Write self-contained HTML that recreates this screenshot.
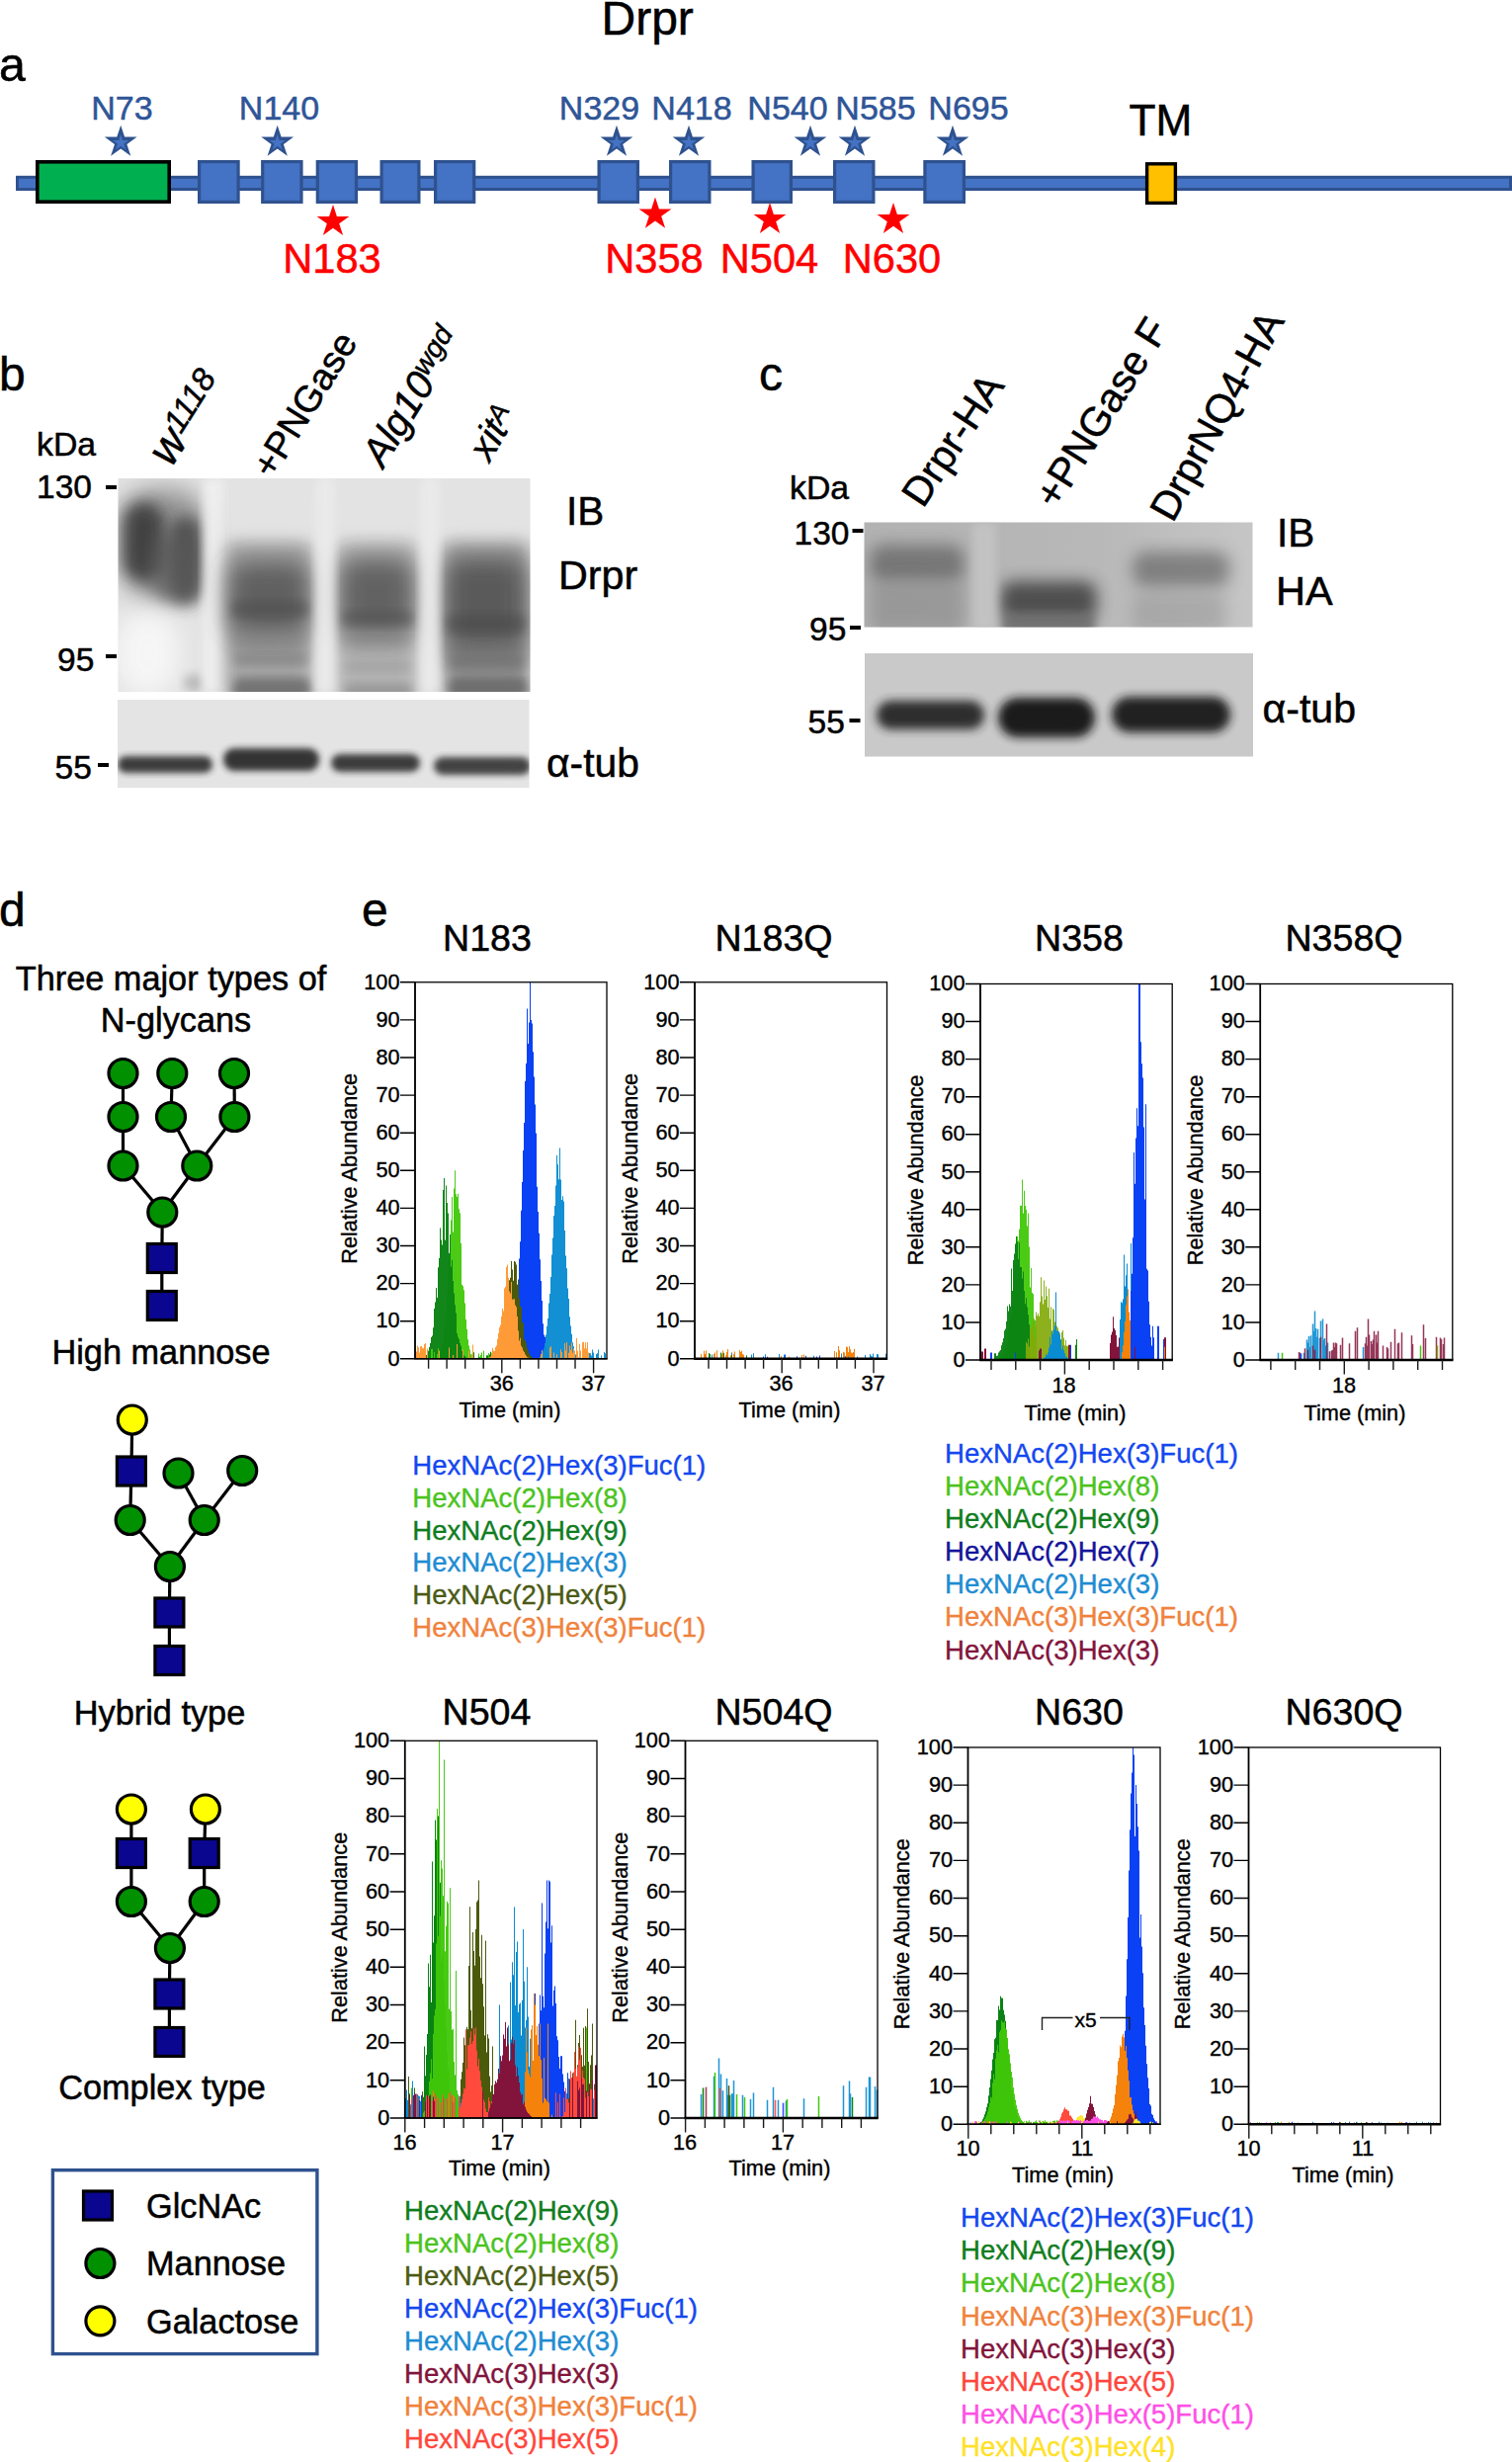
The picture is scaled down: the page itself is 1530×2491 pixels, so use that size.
<!DOCTYPE html>
<html lang="en"><head><meta charset="utf-8"><title>Drpr N-glycosylation</title>
<style>
html,body{margin:0;padding:0;background:#fff;}
svg{display:block;font-family:"Liberation Sans", sans-serif;}
</style></head><body>
<svg width="1530" height="2491" viewBox="0 0 1530 2491">
<rect width="1530" height="2491" fill="#fff"/>
<g id="panel-a">
<text x="608.5" y="35" font-size="48" fill="#000" stroke="#000" stroke-width="0.5" text-anchor="start" >Drpr</text>
<text x="-1" y="81.5" font-size="48.3" fill="#000" stroke="#000" stroke-width="0.5" text-anchor="start" >a</text>
<rect x="17.5" y="179.3" width="1511" height="12.2" fill="#4472C4" stroke="#2F528F" stroke-width="3"/>
<rect x="37.8" y="163.8" width="133.4" height="40.4" fill="#00B050" stroke="#000" stroke-width="3.6"/>
<rect x="201.6" y="163.6" width="39.5" height="40.8" fill="#4472C4" stroke="#2F528F" stroke-width="3.2"/>
<rect x="265.7" y="163.6" width="39.3" height="40.8" fill="#4472C4" stroke="#2F528F" stroke-width="3.2"/>
<rect x="321.3" y="163.6" width="39.2" height="40.8" fill="#4472C4" stroke="#2F528F" stroke-width="3.2"/>
<rect x="386.1" y="163.6" width="37.8" height="40.8" fill="#4472C4" stroke="#2F528F" stroke-width="3.2"/>
<rect x="440.6" y="163.6" width="39.1" height="40.8" fill="#4472C4" stroke="#2F528F" stroke-width="3.2"/>
<rect x="606.1" y="163.6" width="39.3" height="40.8" fill="#4472C4" stroke="#2F528F" stroke-width="3.2"/>
<rect x="678.6" y="163.6" width="39.3" height="40.8" fill="#4472C4" stroke="#2F528F" stroke-width="3.2"/>
<rect x="762.1" y="163.6" width="38.3" height="40.8" fill="#4472C4" stroke="#2F528F" stroke-width="3.2"/>
<rect x="844.6" y="163.6" width="39.3" height="40.8" fill="#4472C4" stroke="#2F528F" stroke-width="3.2"/>
<rect x="935.9" y="163.6" width="39.5" height="40.8" fill="#4472C4" stroke="#2F528F" stroke-width="3.2"/>
<rect x="1160.6" y="165.8" width="28.8" height="39.6" fill="#FFC000" stroke="#000" stroke-width="3.4"/>
<text x="1174.5" y="136.5" font-size="44.2" fill="#000" stroke="#000" stroke-width="0.5" text-anchor="middle" >TM</text>
<polygon points="122.2,126.7 126.1,138.6 138.6,138.6 128.4,145.9 132.3,157.8 122.2,150.5 112.1,157.8 116.0,145.9 105.8,138.6 118.3,138.6" fill="#2F528F"/>
<polygon points="122.2,136.0 124.1,141.9 130.3,141.9 125.3,145.5 127.2,151.4 122.2,147.7 117.2,151.4 119.1,145.5 114.1,141.9 120.3,141.9" fill="#4472C4"/>
<text x="123.5" y="121.3" font-size="34" fill="#2F5597" stroke="#2F5597" stroke-width="0.5" text-anchor="middle" >N73</text>
<polygon points="280.7,126.7 284.6,138.6 297.1,138.6 286.9,145.9 290.8,157.8 280.7,150.5 270.6,157.8 274.5,145.9 264.3,138.6 276.8,138.6" fill="#2F528F"/>
<polygon points="280.7,136.0 282.6,141.9 288.8,141.9 283.8,145.5 285.7,151.4 280.7,147.7 275.7,151.4 277.6,145.5 272.6,141.9 278.8,141.9" fill="#4472C4"/>
<text x="282.5" y="121.3" font-size="34" fill="#2F5597" stroke="#2F5597" stroke-width="0.5" text-anchor="middle" >N140</text>
<polygon points="624.0,126.7 627.9,138.6 640.4,138.6 630.2,145.9 634.1,157.8 624.0,150.5 613.9,157.8 617.8,145.9 607.6,138.6 620.1,138.6" fill="#2F528F"/>
<polygon points="624.0,136.0 625.9,141.9 632.1,141.9 627.1,145.5 629.0,151.4 624.0,147.7 619.0,151.4 620.9,145.5 615.9,141.9 622.1,141.9" fill="#4472C4"/>
<text x="606.5" y="121.3" font-size="34" fill="#2F5597" stroke="#2F5597" stroke-width="0.5" text-anchor="middle" >N329</text>
<polygon points="697.0,126.7 700.9,138.6 713.4,138.6 703.2,145.9 707.1,157.8 697.0,150.5 686.9,157.8 690.8,145.9 680.6,138.6 693.1,138.6" fill="#2F528F"/>
<polygon points="697.0,136.0 698.9,141.9 705.1,141.9 700.1,145.5 702.0,151.4 697.0,147.7 692.0,151.4 693.9,145.5 688.9,141.9 695.1,141.9" fill="#4472C4"/>
<text x="700" y="121.3" font-size="34" fill="#2F5597" stroke="#2F5597" stroke-width="0.5" text-anchor="middle" >N418</text>
<polygon points="820.0,126.7 823.9,138.6 836.4,138.6 826.2,145.9 830.1,157.8 820.0,150.5 809.9,157.8 813.8,145.9 803.6,138.6 816.1,138.6" fill="#2F528F"/>
<polygon points="820.0,136.0 821.9,141.9 828.1,141.9 823.1,145.5 825.0,151.4 820.0,147.7 815.0,151.4 816.9,145.5 811.9,141.9 818.1,141.9" fill="#4472C4"/>
<text x="797" y="121.3" font-size="34" fill="#2F5597" stroke="#2F5597" stroke-width="0.5" text-anchor="middle" >N540</text>
<polygon points="865.0,126.7 868.9,138.6 881.4,138.6 871.2,145.9 875.1,157.8 865.0,150.5 854.9,157.8 858.8,145.9 848.6,138.6 861.1,138.6" fill="#2F528F"/>
<polygon points="865.0,136.0 866.9,141.9 873.1,141.9 868.1,145.5 870.0,151.4 865.0,147.7 860.0,151.4 861.9,145.5 856.9,141.9 863.1,141.9" fill="#4472C4"/>
<text x="886" y="121.3" font-size="34" fill="#2F5597" stroke="#2F5597" stroke-width="0.5" text-anchor="middle" >N585</text>
<polygon points="964.0,126.7 967.9,138.6 980.4,138.6 970.2,145.9 974.1,157.8 964.0,150.5 953.9,157.8 957.8,145.9 947.6,138.6 960.1,138.6" fill="#2F528F"/>
<polygon points="964.0,136.0 965.9,141.9 972.1,141.9 967.1,145.5 969.0,151.4 964.0,147.7 959.0,151.4 960.9,145.5 955.9,141.9 962.1,141.9" fill="#4472C4"/>
<text x="980" y="121.3" font-size="34" fill="#2F5597" stroke="#2F5597" stroke-width="0.5" text-anchor="middle" >N695</text>
<polygon points="337.0,207.0 340.9,218.9 353.4,218.9 343.2,226.2 347.1,238.1 337.0,230.8 326.9,238.1 330.8,226.2 320.6,218.9 333.1,218.9" fill="#FF0000"/>
<text x="336" y="276" font-size="41.6" fill="#FF0000" stroke="#FF0000" stroke-width="0.5" text-anchor="middle" >N183</text>
<polygon points="663.0,199.6 666.9,211.5 679.4,211.5 669.2,218.8 673.1,230.7 663.0,223.4 652.9,230.7 656.8,218.8 646.6,211.5 659.1,211.5" fill="#FF0000"/>
<text x="662" y="276" font-size="41.6" fill="#FF0000" stroke="#FF0000" stroke-width="0.5" text-anchor="middle" >N358</text>
<polygon points="779.0,205.0 782.9,216.9 795.4,216.9 785.2,224.2 789.1,236.1 779.0,228.8 768.9,236.1 772.8,224.2 762.6,216.9 775.1,216.9" fill="#FF0000"/>
<text x="778.5" y="276" font-size="41.6" fill="#FF0000" stroke="#FF0000" stroke-width="0.5" text-anchor="middle" >N504</text>
<polygon points="904.0,205.0 907.9,216.9 920.4,216.9 910.2,224.2 914.1,236.1 904.0,228.8 893.9,236.1 897.8,224.2 887.6,216.9 900.1,216.9" fill="#FF0000"/>
<text x="902.5" y="276" font-size="41.6" fill="#FF0000" stroke="#FF0000" stroke-width="0.5" text-anchor="middle" >N630</text>
</g>
<defs>
<filter id="bl3" x="-30%" y="-30%" width="160%" height="160%"><feGaussianBlur stdDeviation="3"/></filter>
<filter id="bl5" x="-30%" y="-30%" width="160%" height="160%"><feGaussianBlur stdDeviation="5"/></filter>
<filter id="bl8" x="-40%" y="-40%" width="180%" height="180%"><feGaussianBlur stdDeviation="8"/></filter>
<filter id="bl12" x="-50%" y="-50%" width="200%" height="200%"><feGaussianBlur stdDeviation="12"/></filter>
<clipPath id="cb1"><rect x="119.5" y="484" width="417" height="216"/></clipPath>
<clipPath id="cb2"><rect x="119" y="708" width="416.5" height="89"/></clipPath>
<clipPath id="cc1"><rect x="874.5" y="528.5" width="393" height="106"/></clipPath>
<clipPath id="cc2"><rect x="875" y="661" width="393" height="104.5"/></clipPath>
<linearGradient id="gc1" x1="0" x2="1" y1="0" y2="0"><stop offset="0" stop-color="#b2b2b2"/><stop offset="0.6" stop-color="#b8b8b8"/><stop offset="1" stop-color="#c6c6c6"/></linearGradient>
</defs>
<g id="panel-b">
<text x="-1" y="395.2" font-size="48" fill="#000" stroke="#000" stroke-width="0.5" text-anchor="start" >b</text>
<text x="37" y="460.5" font-size="33.8" fill="#000" stroke="#000" stroke-width="0.5" text-anchor="start" >kDa</text>
<text x="37" y="504" font-size="33.5" fill="#000" stroke="#000" stroke-width="0.5" text-anchor="start" >130</text>
<text x="58" y="678.5" font-size="33.5" fill="#000" stroke="#000" stroke-width="0.5" text-anchor="start" >95</text>
<text x="55.5" y="788.4" font-size="33.5" fill="#000" stroke="#000" stroke-width="0.5" text-anchor="start" >55</text>
<rect x="107" y="491" width="11" height="4" fill="#000"/>
<rect x="107" y="662" width="11" height="4" fill="#000"/>
<rect x="99" y="772" width="11" height="4" fill="#000"/>
<text transform="translate(173.5,473.5) rotate(-57.5)" stroke="#000" stroke-width="0.5" font-size="46" font-style="italic">w<tspan font-size="33" dy="-10">1118</tspan></text>
<text transform="translate(275.5,485.7) rotate(-58)" stroke="#000" stroke-width="0.5" font-size="37.7">+PNGase</text>
<text transform="translate(388,474.6) rotate(-58.6)" stroke="#000" stroke-width="0.5" font-size="40" font-style="italic">Alg10<tspan font-size="28.5" dy="-11">wgd</tspan></text>
<text transform="translate(495.5,468.5) rotate(-60)" stroke="#000" stroke-width="0.5" font-size="39" font-style="italic">xit<tspan font-size="27" dy="-9">A</tspan></text>
<g clip-path="url(#cb1)">
<rect x="119" y="483" width="419" height="218" fill="#e3e3e3"/>
<rect x="122" y="494" width="86" height="112" rx="34" fill="#7a7a7a" opacity="0.75" filter="url(#bl12)"/>
<rect x="124" y="508" width="42" height="80" rx="21.0" fill="#2e2e2e" opacity="0.8" filter="url(#bl8)"/>
<rect x="172" y="522" width="33" height="90" rx="16.5" fill="#3a3a3a" opacity="0.75" filter="url(#bl8)"/>
<rect x="150" y="540" width="50" height="70" rx="25.0" fill="#585858" opacity="0.6" filter="url(#bl8)"/>
<rect x="116" y="618" width="66" height="86" rx="33.0" fill="#f8f8f8" opacity="0.9" filter="url(#bl12)"/>
<rect x="186" y="682" width="20" height="18" rx="9.0" fill="#a0a0a0" opacity="0.6" filter="url(#bl5)"/>
<rect x="206" y="484" width="20" height="216" rx="4" fill="#f0f0f0" opacity="0.9" filter="url(#bl5)"/>
<rect x="228" y="548" width="88" height="164" rx="10" fill="#909090" opacity="0.75" filter="url(#bl8)"/>
<rect x="230" y="568" width="84" height="76" rx="18" fill="#3c3c3c" opacity="0.66" filter="url(#bl12)"/>
<rect x="236" y="640" width="74" height="24" rx="8" fill="#808080" opacity="0.5" filter="url(#bl8)"/>
<rect x="236" y="686" width="78" height="24" rx="8" fill="#686868" opacity="0.8" filter="url(#bl5)"/>
<rect x="234" y="608" width="78" height="16" rx="6" fill="#484848" opacity="0.45" filter="url(#bl5)"/>
<rect x="236" y="662" width="76" height="12" rx="6" fill="#7a7a7a" opacity="0.5" filter="url(#bl5)"/>
<rect x="340" y="548" width="82" height="164" rx="10" fill="#a0a0a0" opacity="0.72" filter="url(#bl8)"/>
<rect x="342" y="564" width="78" height="78" rx="18" fill="#3e3e3e" opacity="0.68" filter="url(#bl12)"/>
<rect x="346" y="634" width="70" height="22" rx="8" fill="#7a7a7a" opacity="0.5" filter="url(#bl8)"/>
<rect x="348" y="692" width="70" height="18" rx="8" fill="#8c8c8c" opacity="0.7" filter="url(#bl5)"/>
<rect x="320" y="484" width="18" height="216" rx="4" fill="#ececec" opacity="0.85" filter="url(#bl5)"/>
<rect x="346" y="618" width="72" height="16" rx="6" fill="#484848" opacity="0.45" filter="url(#bl5)"/>
<rect x="348" y="668" width="68" height="12" rx="6" fill="#9a9a9a" opacity="0.5" filter="url(#bl5)"/>
<rect x="447" y="548" width="89" height="164" rx="10" fill="#888888" opacity="0.75" filter="url(#bl8)"/>
<rect x="449" y="564" width="85" height="96" rx="18" fill="#3a3a3a" opacity="0.68" filter="url(#bl12)"/>
<rect x="452" y="650" width="80" height="26" rx="8" fill="#6c6c6c" opacity="0.55" filter="url(#bl8)"/>
<rect x="454" y="684" width="80" height="26" rx="8" fill="#646464" opacity="0.8" filter="url(#bl5)"/>
<rect x="426" y="484" width="18" height="216" rx="4" fill="#ececec" opacity="0.85" filter="url(#bl5)"/>
<rect x="452" y="622" width="80" height="18" rx="6" fill="#444444" opacity="0.45" filter="url(#bl5)"/>
<rect x="454" y="666" width="78" height="12" rx="6" fill="#6a6a6a" opacity="0.5" filter="url(#bl5)"/>
</g>
<g clip-path="url(#cb2)">
<rect x="118" y="707" width="419" height="91" fill="#e4e4e4"/>
<rect x="119" y="765" width="96" height="17" rx="8.5" fill="#2c2c2c" opacity="0.9" filter="url(#bl3)"/>
<rect x="226" y="757" width="97" height="23" rx="11.5" fill="#262626" opacity="0.92" filter="url(#bl3)"/>
<rect x="335" y="763" width="90" height="18" rx="9.0" fill="#2c2c2c" opacity="0.9" filter="url(#bl3)"/>
<rect x="439" y="766" width="98" height="18" rx="9.0" fill="#303030" opacity="0.9" filter="url(#bl3)"/>
</g>
<text x="573" y="530.5" font-size="40.5" fill="#000" stroke="#000" stroke-width="0.5" text-anchor="start" >IB</text>
<text x="565" y="596" font-size="41.3" fill="#000" stroke="#000" stroke-width="0.5" text-anchor="start" >Drpr</text>
<text x="553" y="785.5" font-size="40.8" fill="#000" stroke="#000" stroke-width="0.5" text-anchor="start" >α-tub</text>
</g>
<g id="panel-c">
<text x="768" y="394.8" font-size="48" fill="#000" stroke="#000" stroke-width="0.5" text-anchor="start" >c</text>
<text x="799" y="504.5" font-size="33.8" fill="#000" stroke="#000" stroke-width="0.5" text-anchor="start" >kDa</text>
<text x="803.5" y="550.5" font-size="33.5" fill="#000" stroke="#000" stroke-width="0.5" text-anchor="start" >130</text>
<text x="819" y="648" font-size="33.5" fill="#000" stroke="#000" stroke-width="0.5" text-anchor="start" >95</text>
<text x="817.5" y="741.5" font-size="33.5" fill="#000" stroke="#000" stroke-width="0.5" text-anchor="start" >55</text>
<rect x="862.5" y="535" width="11" height="4" fill="#000"/>
<rect x="860" y="633" width="11" height="4" fill="#000"/>
<rect x="859.5" y="727" width="11" height="4" fill="#000"/>
<text transform="translate(933.9,515.2) rotate(-56.3)" stroke="#000" stroke-width="0.5" font-size="41">Drpr-HA</text>
<text transform="translate(1069,516.5) rotate(-58)" stroke="#000" stroke-width="0.5" font-size="41.2">+PNGase F</text>
<text transform="translate(1186.7,529.7) rotate(-61)" stroke="#000" stroke-width="0.5" font-size="41">DrprNQ4-HA</text>
<g clip-path="url(#cc1)">
<rect x="874" y="528" width="394" height="107" fill="url(#gc1)"/>
<rect x="880" y="551" width="96" height="39" rx="14" fill="#666666" opacity="0.78" filter="url(#bl8)"/>
<rect x="880" y="588" width="96" height="52" rx="10" fill="#8e8e8e" opacity="0.7" filter="url(#bl8)"/>
<rect x="1012" y="588" width="98" height="40" rx="14" fill="#484848" opacity="0.95" filter="url(#bl8)"/>
<rect x="1014" y="620" width="94" height="25" rx="8" fill="#6a6a6a" opacity="0.8" filter="url(#bl5)"/>
<rect x="1146" y="558" width="98" height="36" rx="14" fill="#6c6c6c" opacity="0.75" filter="url(#bl8)"/>
<rect x="1146" y="600" width="94" height="40" rx="10" fill="#9a9a9a" opacity="0.6" filter="url(#bl8)"/>
<rect x="984" y="528" width="24" height="112" rx="4" fill="#c4c4c4" opacity="0.9" filter="url(#bl5)"/>
</g>
<g clip-path="url(#cc2)">
<rect x="874" y="660" width="395" height="106" fill="#c9c9c9"/>
<rect x="887" y="709" width="109" height="29" rx="14.5" fill="#262626" opacity="0.95" filter="url(#bl5)"/>
<rect x="1010" y="706" width="98" height="40" rx="20.0" fill="#161616" opacity="0.97" filter="url(#bl5)"/>
<rect x="1125" y="705" width="120" height="36" rx="18.0" fill="#1a1a1a" opacity="0.97" filter="url(#bl5)"/>
</g>
<text x="1292" y="553" font-size="40.5" fill="#000" stroke="#000" stroke-width="0.5" text-anchor="start" >IB</text>
<text x="1291" y="611.5" font-size="41.5" fill="#000" stroke="#000" stroke-width="0.5" text-anchor="start" >HA</text>
<text x="1277.5" y="730.5" font-size="41.1" fill="#000" stroke="#000" stroke-width="0.5" text-anchor="start" >α-tub</text>
</g>
<g id="panel-d">
<text x="-1" y="937" font-size="48" fill="#000" stroke="#000" stroke-width="0.5" text-anchor="start" >d</text>
<text x="173" y="1002" font-size="34.3" fill="#000" stroke="#000" stroke-width="0.5" text-anchor="middle" >Three major types of</text>
<text x="178" y="1044" font-size="34.3" fill="#000" stroke="#000" stroke-width="0.5" text-anchor="middle" >N-glycans</text>
<line x1="124.5" y1="1086" x2="124.5" y2="1130" stroke="#000" stroke-width="3.2"/>
<line x1="174.3" y1="1086" x2="173" y2="1130" stroke="#000" stroke-width="3.2"/>
<line x1="237" y1="1086" x2="237.4" y2="1130" stroke="#000" stroke-width="3.2"/>
<line x1="124.5" y1="1130" x2="124.5" y2="1179.5" stroke="#000" stroke-width="3.2"/>
<line x1="173" y1="1130" x2="199.3" y2="1179.5" stroke="#000" stroke-width="3.2"/>
<line x1="237.4" y1="1130" x2="199.3" y2="1179.5" stroke="#000" stroke-width="3.2"/>
<line x1="124.5" y1="1179.5" x2="164.3" y2="1226.5" stroke="#000" stroke-width="3.2"/>
<line x1="199.3" y1="1179.5" x2="164.3" y2="1226.5" stroke="#000" stroke-width="3.2"/>
<line x1="164.3" y1="1226.5" x2="163.8" y2="1273" stroke="#000" stroke-width="3.2"/>
<line x1="163.8" y1="1273" x2="163.8" y2="1321" stroke="#000" stroke-width="3.2"/>
<circle cx="124.5" cy="1086" r="14.5" fill="#009000" stroke="#000" stroke-width="3.2"/>
<circle cx="174.3" cy="1086" r="14.5" fill="#009000" stroke="#000" stroke-width="3.2"/>
<circle cx="237" cy="1086" r="14.5" fill="#009000" stroke="#000" stroke-width="3.2"/>
<circle cx="124.5" cy="1130" r="14.5" fill="#009000" stroke="#000" stroke-width="3.2"/>
<circle cx="173" cy="1130" r="14.5" fill="#009000" stroke="#000" stroke-width="3.2"/>
<circle cx="237.4" cy="1130" r="14.5" fill="#009000" stroke="#000" stroke-width="3.2"/>
<circle cx="124.5" cy="1179.5" r="14.5" fill="#009000" stroke="#000" stroke-width="3.2"/>
<circle cx="199.3" cy="1179.5" r="14.5" fill="#009000" stroke="#000" stroke-width="3.2"/>
<circle cx="164.3" cy="1226.5" r="14.5" fill="#009000" stroke="#000" stroke-width="3.2"/>
<rect x="149.3" y="1258.5" width="29" height="29" fill="#0A0690" stroke="#000" stroke-width="3.2"/>
<rect x="149.3" y="1306.5" width="29" height="29" fill="#0A0690" stroke="#000" stroke-width="3.2"/>
<text x="163" y="1379.5" font-size="34.3" fill="#000" stroke="#000" stroke-width="0.5" text-anchor="middle" >High mannose</text>
<line x1="133.8" y1="1436.5" x2="132.9" y2="1488.5" stroke="#000" stroke-width="3.2"/>
<line x1="132.9" y1="1488.5" x2="131.7" y2="1538" stroke="#000" stroke-width="3.2"/>
<line x1="180.5" y1="1490.5" x2="206.7" y2="1538" stroke="#000" stroke-width="3.2"/>
<line x1="245.2" y1="1488" x2="206.7" y2="1538" stroke="#000" stroke-width="3.2"/>
<line x1="131.7" y1="1538" x2="171.9" y2="1585" stroke="#000" stroke-width="3.2"/>
<line x1="206.7" y1="1538" x2="171.9" y2="1585" stroke="#000" stroke-width="3.2"/>
<line x1="171.9" y1="1585" x2="171.4" y2="1631.5" stroke="#000" stroke-width="3.2"/>
<line x1="171.4" y1="1631.5" x2="171.4" y2="1680" stroke="#000" stroke-width="3.2"/>
<circle cx="133.8" cy="1436.5" r="14.5" fill="#FFFF00" stroke="#000" stroke-width="3.2"/>
<rect x="118.4" y="1474.0" width="29" height="29" fill="#0A0690" stroke="#000" stroke-width="3.2"/>
<circle cx="180.5" cy="1490.5" r="14.5" fill="#009000" stroke="#000" stroke-width="3.2"/>
<circle cx="245.2" cy="1488" r="14.5" fill="#009000" stroke="#000" stroke-width="3.2"/>
<circle cx="131.7" cy="1538" r="14.5" fill="#009000" stroke="#000" stroke-width="3.2"/>
<circle cx="206.7" cy="1538" r="14.5" fill="#009000" stroke="#000" stroke-width="3.2"/>
<circle cx="171.9" cy="1585" r="14.5" fill="#009000" stroke="#000" stroke-width="3.2"/>
<rect x="156.9" y="1617.0" width="29" height="29" fill="#0A0690" stroke="#000" stroke-width="3.2"/>
<rect x="156.9" y="1665.5" width="29" height="29" fill="#0A0690" stroke="#000" stroke-width="3.2"/>
<text x="161.5" y="1744.8" font-size="34.3" fill="#000" stroke="#000" stroke-width="0.5" text-anchor="middle" >Hybrid type</text>
<line x1="132.9" y1="1830.5" x2="132.9" y2="1875" stroke="#000" stroke-width="3.2"/>
<line x1="207.9" y1="1830.5" x2="206.7" y2="1875" stroke="#000" stroke-width="3.2"/>
<line x1="132.9" y1="1875" x2="132.9" y2="1924" stroke="#000" stroke-width="3.2"/>
<line x1="206.7" y1="1875" x2="206.7" y2="1924" stroke="#000" stroke-width="3.2"/>
<line x1="132.9" y1="1924" x2="171.9" y2="1971" stroke="#000" stroke-width="3.2"/>
<line x1="206.7" y1="1924" x2="171.9" y2="1971" stroke="#000" stroke-width="3.2"/>
<line x1="171.9" y1="1971" x2="171.4" y2="2017.5" stroke="#000" stroke-width="3.2"/>
<line x1="171.4" y1="2017.5" x2="171.4" y2="2066" stroke="#000" stroke-width="3.2"/>
<circle cx="132.9" cy="1830.5" r="14.5" fill="#FFFF00" stroke="#000" stroke-width="3.2"/>
<circle cx="207.9" cy="1830.5" r="14.5" fill="#FFFF00" stroke="#000" stroke-width="3.2"/>
<rect x="118.4" y="1860.5" width="29" height="29" fill="#0A0690" stroke="#000" stroke-width="3.2"/>
<rect x="192.2" y="1860.5" width="29" height="29" fill="#0A0690" stroke="#000" stroke-width="3.2"/>
<circle cx="132.9" cy="1924" r="14.5" fill="#009000" stroke="#000" stroke-width="3.2"/>
<circle cx="206.7" cy="1924" r="14.5" fill="#009000" stroke="#000" stroke-width="3.2"/>
<circle cx="171.9" cy="1971" r="14.5" fill="#009000" stroke="#000" stroke-width="3.2"/>
<rect x="156.9" y="2003.0" width="29" height="29" fill="#0A0690" stroke="#000" stroke-width="3.2"/>
<rect x="156.9" y="2051.5" width="29" height="29" fill="#0A0690" stroke="#000" stroke-width="3.2"/>
<text x="164" y="2124.3" font-size="34.3" fill="#000" stroke="#000" stroke-width="0.5" text-anchor="middle" >Complex type</text>
<rect x="53.4" y="2195.7" width="267.5" height="185.9" fill="#fff" stroke="#2F528F" stroke-width="3.4"/>
<rect x="84.5" y="2217.0" width="29" height="29" fill="#0A0690" stroke="#000" stroke-width="3.2"/>
<circle cx="101.4" cy="2290" r="14.5" fill="#009000" stroke="#000" stroke-width="3.2"/>
<circle cx="101.4" cy="2348.3" r="14.5" fill="#FFFF00" stroke="#000" stroke-width="3.2"/>
<text x="148" y="2244" font-size="34.3" fill="#000" stroke="#000" stroke-width="0.5" text-anchor="start" >GlcNAc</text>
<text x="148" y="2302.4" font-size="34.3" fill="#000" stroke="#000" stroke-width="0.5" text-anchor="start" >Mannose</text>
<text x="148" y="2360.7" font-size="34.3" fill="#000" stroke="#000" stroke-width="0.5" text-anchor="start" >Galactose</text>
</g>
<g id="panel-e">
<text x="366" y="937.2" font-size="48" fill="#000" stroke="#000" stroke-width="0.5" text-anchor="start" >e</text>
<g>
<text x="493" y="961.5" font-size="37.6" fill="#000" stroke="#000" stroke-width="0.5" text-anchor="middle" >N183</text>
<path d="M442,1374.8v-1.5h1v-0.6h1v-1h1v-3.2h1v-2h1v-3.3h1v-6.5h1v-12.1h1v-3.9h1v-10.8h1v-22.2h1v-14.6h1v-20h1v-19.2h1v-19.5h1v-23.3h1v35.5h1v-44.1h1v-18.2h1v24h1v2.8h1v-3.3h1v15.4h1v4.1h1v30.7h1v41.7h1v1.5h1v4.1h1v13.2h1v16.6h1v9.9h1v10.2h1v6.3h1v4h1v4.7h1v0.4h1v2h1v0.9h1v1.3z" fill="#41C80A" fill-opacity="0.95"/>
<path d="M428,1374.8v-0.7h1v-1h1v-0.3h1v-1.7h1v-1.8h1v-2.5h1v-3.7h1v-4h1v-6.1h1v-1.4h1v-8.4h1v-19.1h1v-6.7h1v-14.5h1v10h1v-30.6h1v-9.4h1v-30.5h1v12.1h1v5.1h1v-55.5h1v-12.2h1v62.9h1v-55.3h1v17.6h1v10.5h1v40.5h1v-19.1h1v32.7h1v-6.9h1v21.1h1v12.6h1v11.8h1v8.2h1v20.6h1v3.6h1v2.4h1v3.8h1v2.9h1v5.1h1v2.7h1v1.6h1v1h1v1.2h1v0.3h1v1.1z" fill="#0A8214" fill-opacity="0.97"/>
<path d="M436,1374.8v-9.8h1v-0.1h1v9.9zM439,1374.8v-6.9h1v6.9zM442,1374.8v-4.8h1v-5.9h1v10.7zM477,1374.8v-3.3h1v3.3zM484,1374.8v-5.3h1v3.2h1v-1.6h1v-2.7h1v6.4zM489,1374.8v-8h1v8zM492,1374.8v-3.3h1v0.1h1v-2.7h1v5.9zM497,1374.8v-6.1h1v6.1zM499,1374.8v-6.2h1v6.2z" fill="#41C80A"/>
<path d="M479,1374.8v-6.6h1v6.6zM484,1374.8v-2h1v2zM492,1374.8v-3.3h1v0h1v3.3zM495,1374.8v-4.3h1v-2.8h1v7.1z" fill="#0A8214"/>
<path d="M513,1374.8v-1.1h1v-0.5h1v-1.3h1v-1.5h1v-2.5h1v-4.1h1v-4.4h1v-6.7h1v-8.1h1v-2.7h1v-24.4h1v-19.5h1v-24.5h1v-17.3h1v-31.4h1v-28.8h1v-32h1v-28.1h1v-42h1v-17.8h1v-55.6h1v35.6h1v-21.6h1v-40.7h1v38.1h1v3.6h1v28.7h1v25.3h1v27.9h1v29h1v54.3h1v25.4h1v21.7h1v26.5h1v21.6h1v20.1h1v23.3h1v11.2h1v2.3h1v10h1v1.8h1v4.6h1v1.5h1v1.1h1v1.2h1v0.8h1v1z" fill="#0A41F5"/>
<path d="M501,1374.8v-1.5h1v-0.9h1v-1.4h1v-1.1h1v-2.2h1v-5h1v-3.2h1v-2.2h1v-9.6h1v-1.9h1v-11.9h1v-7.6h1v-12.7h1v4.6h1v-23h1v-2.5h1v-16.7h1v8.5h1v11.3h1v-19.7h1v0.7h1v2.6h1v20.3h1v-5.1h1v19.1h1v8.3h1v0.4h1v16.7h1v-1.1h1v18.5h1v-1.4h1v3.8h1v5.2h1v2.5h1v2.9h1v2.1h1v1h1v0.8h1v1.4z" fill="#4B5A0A"/>
<path d="M420,1374.8v-12.3h1v5.1h1v-6.2h1v1.8h1v5.3h1v-6.3h1v-0.1h1v1.7h1v0.5h1v-4.4h1v-0.9h1v15.8zM432,1374.8v-10.4h1v10.4zM495,1374.8v-1.5h1v-0.8h1v-3.6h1v-5.1h1v2.8h1v0.4h1v-4.1h1v-1.4h1v-6.8h1v-5.9h1v-5.8h1v-2.5h1v-8.5h1v-8h1v2.5h1v-22.9h1v-1.8h1v-19.7h1v-2.5h1v13.2h1v13.6h1v2.1h1v-11.6h1v17.9h1v-0.2h1v-0.4h1v6.2h1v1.9h1v9.7h1v14.6h1v10h1v-2.8h1v8h1v1.6h1v3h1v1.7h1v2.1h1v1.6h1v1.5h1v0.3h1v1.2z" fill="#FF9B37"/>
<path d="M545,1374.8v-1.2h1v-0.8h1v-1.1h1v-1.7h1v-2.8h1v-3.4h1v-4.8h1v-8.4h1v-8.9h1v-7.6h1v-15.6h1v-9.4h1v-17.2h1v-22.3h1v-17.2h1v-22.5h1v-10h1v-20.3h1v-30.5h1v9.2h1v14.9h1v-31.8h1v32.2h1v20.3h1v-3.6h1v5.3h1v29.5h1v25.5h1v12.6h1v20.3h1v10.6h1v18.2h1v9.3h1v8.2h1v8.5h1v4h1v4.5h1v3.6h1v0.9h1v1.3h1v0.8h1v1.4zM596,1374.8v-5.7h1v0.2h1v2.1h1v-5.9h1v3h1v6.3zM603,1374.8v-4.8h1v-0.8h1v-3.6h1v9.2zM608,1374.8v-3.3h1v3.3zM611,1374.8v-6.9h1v1.3h1v5.6z" fill="#0A8CD2" fill-opacity="0.97"/>
<path d="M444,1374.8v-8.3h1v8.3zM454,1374.8v-11.4h1v11.4zM458,1374.8v-3.8h1v3.8zM462,1374.8v-14.8h1v14.8zM468,1374.8v-9.2h1v9.2zM474,1374.8v-8.5h1v8.5zM477,1374.8v-4.2h1v-10.1h1v14.3zM547,1374.8v-4.8h1v-4h1v8.8zM556,1374.8v-11.3h1v-1.3h1v12.6zM560,1374.8v-6.2h1v6.2zM563,1374.8v-4.5h1v4.5zM567,1374.8v-9.5h1v2.8h1v6.7zM571,1374.8v-15.8h1v7.4h1v-8.3h1v16.7zM575,1374.8v-6h1v-7.4h1v4.7h1v-7.6h1v10.2h1v-4.4h1v2.5h1v8zM583,1374.8v-21h1v12.9h1v8.1zM586,1374.8v-15.1h1v6.9h1v8.2zM589,1374.8v-16.6h1v-0.5h1v6.6h1v-6.1h1v6.4h1v-6.6h1v10.5h1v6.3z" fill="#FF9B37"/>
<rect x="420" y="993.8" width="194" height="381.0" fill="none" stroke="#000" stroke-width="1.3"/>
<line x1="420" y1="993.8" x2="420" y2="1374.8" stroke="#000" stroke-width="1.6"/>
<line x1="419.2" y1="1374.8" x2="614.6" y2="1374.8" stroke="#000" stroke-width="1.6"/>
<text x="404.5" y="1381.5" font-size="21.7" fill="#000" stroke="#000" stroke-width="0.38" text-anchor="end" >0</text>
<text x="404.5" y="1343.4" font-size="21.7" fill="#000" stroke="#000" stroke-width="0.38" text-anchor="end" >10</text>
<text x="404.5" y="1305.3" font-size="21.7" fill="#000" stroke="#000" stroke-width="0.38" text-anchor="end" >20</text>
<text x="404.5" y="1267.2" font-size="21.7" fill="#000" stroke="#000" stroke-width="0.38" text-anchor="end" >30</text>
<text x="404.5" y="1229.1" font-size="21.7" fill="#000" stroke="#000" stroke-width="0.38" text-anchor="end" >40</text>
<text x="404.5" y="1191.0" font-size="21.7" fill="#000" stroke="#000" stroke-width="0.38" text-anchor="end" >50</text>
<text x="404.5" y="1152.9" font-size="21.7" fill="#000" stroke="#000" stroke-width="0.38" text-anchor="end" >60</text>
<text x="404.5" y="1114.8" font-size="21.7" fill="#000" stroke="#000" stroke-width="0.38" text-anchor="end" >70</text>
<text x="404.5" y="1076.7" font-size="21.7" fill="#000" stroke="#000" stroke-width="0.38" text-anchor="end" >80</text>
<text x="404.5" y="1038.6" font-size="21.7" fill="#000" stroke="#000" stroke-width="0.38" text-anchor="end" >90</text>
<text x="404.5" y="1000.5" font-size="21.7" fill="#000" stroke="#000" stroke-width="0.38" text-anchor="end" >100</text>
<path d="M405.0,1374.8h15M405.0,1336.7h15M405.0,1298.6h15M405.0,1260.5h15M405.0,1222.4h15M405.0,1184.3h15M405.0,1146.2h15M405.0,1108.1h15M405.0,1070.0h15M405.0,1031.9h15M405.0,993.8h15" stroke="#000" stroke-width="1.4" fill="none"/>
<path d="M433.6,1374.8v10M452.1,1374.8v10M470.7,1374.8v10M489.2,1374.8v10M507.8,1374.8v14.5M526.4,1374.8v10M544.9,1374.8v10M563.5,1374.8v10M582.0,1374.8v10M600.6,1374.8v14.5" stroke="#1a1a1a" stroke-width="1.4" fill="none"/>
<text x="507.8" y="1406.7" font-size="21.7" fill="#000" stroke="#000" stroke-width="0.38" text-anchor="middle" >36</text>
<text x="600.6" y="1406.7" font-size="21.7" fill="#000" stroke="#000" stroke-width="0.38" text-anchor="middle" >37</text>
<text x="516" y="1434" font-size="21.7" fill="#000" stroke="#000" stroke-width="0.38" text-anchor="middle" >Time (min)</text>
<text transform="translate(361,1182.3) rotate(-90)" stroke="#000" stroke-width="0.38" font-size="21.7" text-anchor="middle">Relative Abundance</text>
</g>
<g>
<text x="783" y="961.5" font-size="37.6" fill="#000" stroke="#000" stroke-width="0.5" text-anchor="middle" >N183Q</text>
<path d="M709,1374.8v-4.9h1v4.9zM712,1374.8v-8h1v3.1h1v-3.3h1v8.2zM718,1374.8v-4.7h1v4.7zM722,1374.8v-4.8h1v-1.6h1v6.4zM725,1374.8v-8.6h1v8.6zM730,1374.8v-5.2h1v-3.2h1v4h1v4.4zM734,1374.8v-3.5h1v-3.3h1v-3h1v9.8zM739,1374.8v-3.6h1v-2.9h1v6.5zM742,1374.8v-4.7h1v-2.6h1v7.3zM748,1374.8v-8.8h1v1.9h1v-1.2h1v3.4h1v0.6h1v4.1zM788,1374.8v-2.8h1v2.8zM790,1374.8v-2.7h1v2.7zM794,1374.8v-2.2h1v2.2zM798,1374.8v-2.3h1v2.3zM811,1374.8v-3.8h1v3.8zM813,1374.8v-4.3h1v4.3zM844,1374.8v-7.9h1v7.9zM846,1374.8v-6.5h1v6.5zM848,1374.8v-12.9h1v4.3h1v8.6zM853,1374.8v-7h1v0.8h1v6.2zM856,1374.8v-12.4h1v0.6h1v5h1v-5.7h1v2.9h1v3.2h1v0.6h1v-0.9h1v-3.3h1v10z" fill="#F5820A"/>
<path d="M720,1374.8v-4.4h1v4.4zM740,1374.8v-5.8h1v5.8zM760,1374.8v-4.4h1v4.4zM762,1374.8v-5.5h1v5.5zM774,1374.8v-4.6h1v4.6zM788,1374.8v-4.7h1v4.7zM793,1374.8v-4.2h1v4.2zM823,1374.8v-3h1v3zM851,1374.8v-5.4h1v5.4zM858,1374.8v-2.4h1v2.4zM867,1374.8v-2.3h1v2.3zM887,1374.8v-4.7h1v4.7zM896,1374.8v-4.3h1v4.3z" fill="#0A8CD2"/>
<path d="M717,1374.8v-5.8h1v1h1v4.8zM729,1374.8v-6.4h1v6.4zM732,1374.8v-6.1h1v6.1zM740,1374.8v-3.8h1v3.8zM755,1374.8v-3.5h1v3.5z" fill="#0A8214"/>
<path d="M772,1374.8v-2.2h1v2.2zM776,1374.8v-2h1v2zM794,1374.8v-4.2h1v4.2zM806,1374.8v-2.6h1v2.6zM815,1374.8v-3h1v3zM826,1374.8v-2.4h1v2.4zM829,1374.8v-3.2h1v3.2zM855,1374.8v-2.5h1v2.5z" fill="#0A41F5"/>
<path d="M875,1374.8v-3.7h1v3.7zM880,1374.8v-4.7h1v1.6h1v0.7h1v-2.9h1v5.3zM888,1374.8v-4.6h1v4.6zM896,1374.8v-5h1v5z" fill="#0A8CD2"/>
<rect x="703" y="993.8" width="194.5" height="381.0" fill="none" stroke="#000" stroke-width="1.3"/>
<line x1="703" y1="993.8" x2="703" y2="1374.8" stroke="#000" stroke-width="1.6"/>
<line x1="702.2" y1="1374.8" x2="898.1" y2="1374.8" stroke="#000" stroke-width="2.6"/>
<text x="687.5" y="1381.5" font-size="21.7" fill="#000" stroke="#000" stroke-width="0.38" text-anchor="end" >0</text>
<text x="687.5" y="1343.4" font-size="21.7" fill="#000" stroke="#000" stroke-width="0.38" text-anchor="end" >10</text>
<text x="687.5" y="1305.3" font-size="21.7" fill="#000" stroke="#000" stroke-width="0.38" text-anchor="end" >20</text>
<text x="687.5" y="1267.2" font-size="21.7" fill="#000" stroke="#000" stroke-width="0.38" text-anchor="end" >30</text>
<text x="687.5" y="1229.1" font-size="21.7" fill="#000" stroke="#000" stroke-width="0.38" text-anchor="end" >40</text>
<text x="687.5" y="1191.0" font-size="21.7" fill="#000" stroke="#000" stroke-width="0.38" text-anchor="end" >50</text>
<text x="687.5" y="1152.9" font-size="21.7" fill="#000" stroke="#000" stroke-width="0.38" text-anchor="end" >60</text>
<text x="687.5" y="1114.8" font-size="21.7" fill="#000" stroke="#000" stroke-width="0.38" text-anchor="end" >70</text>
<text x="687.5" y="1076.7" font-size="21.7" fill="#000" stroke="#000" stroke-width="0.38" text-anchor="end" >80</text>
<text x="687.5" y="1038.6" font-size="21.7" fill="#000" stroke="#000" stroke-width="0.38" text-anchor="end" >90</text>
<text x="687.5" y="1000.5" font-size="21.7" fill="#000" stroke="#000" stroke-width="0.38" text-anchor="end" >100</text>
<path d="M688.0,1374.8h15M688.0,1336.7h15M688.0,1298.6h15M688.0,1260.5h15M688.0,1222.4h15M688.0,1184.3h15M688.0,1146.2h15M688.0,1108.1h15M688.0,1070.0h15M688.0,1031.9h15M688.0,993.8h15" stroke="#000" stroke-width="1.4" fill="none"/>
<path d="M717.0,1374.8v10M735.5,1374.8v10M754.1,1374.8v10M772.6,1374.8v10M791.2,1374.8v14.5M809.8,1374.8v10M828.3,1374.8v10M846.9,1374.8v10M865.4,1374.8v10M884.0,1374.8v14.5" stroke="#1a1a1a" stroke-width="1.4" fill="none"/>
<text x="790.5" y="1406.7" font-size="21.7" fill="#000" stroke="#000" stroke-width="0.38" text-anchor="middle" >36</text>
<text x="883.5" y="1406.7" font-size="21.7" fill="#000" stroke="#000" stroke-width="0.38" text-anchor="middle" >37</text>
<text x="799" y="1434" font-size="21.7" fill="#000" stroke="#000" stroke-width="0.38" text-anchor="middle" >Time (min)</text>
<text transform="translate(644.5,1182.3) rotate(-90)" stroke="#000" stroke-width="0.38" font-size="21.7" text-anchor="middle">Relative Abundance</text>
</g>
<g>
<text x="1092" y="961.5" font-size="37.6" fill="#000" stroke="#000" stroke-width="0.5" text-anchor="middle" >N358</text>
<path d="M1011,1376.0v-1.6h1v-0.2h1v-1h1v-0.9h1v-2.3h1v-2.3h1v-3.1h1v-1.8h1v-4.4h1v-10.8h1v-8.6h1v-4.9h1v-5.7h1v-8.6h1v-15.2h1v-16.5h1v-9.3h1v-18.2h1v-9.7h1v4.4h1v-11.5h1v-23.7h1v-0.4h1v-26.3h1v34h1v-22.6h1v15.1h1v3.8h1v16.8h1v-12.9h1v34h1v40.8h1v-19.4h1v25h1v1.2h1v25h1v1.9h1v6.5h1v33.4z" fill="#41C80A" fill-opacity="0.95"/>
<path d="M1005,1376.0v-1.1h1v-0.5h1v-0.8h1v-1.5h1v-0.5h1v-3h1v-1.4h1v-1.2h1v-4.8h1v-3h1v-4.1h1v-7.9h1v-1.7h1v-7.6h1v-15.5h1v5h1v-6.9h1v2.3h1v-38.4h1v22.5h1v-30.8h1v-6.6h1v-10.1h1v-7.4h1v5.3h1v17.8h1v-16.9h1v24.9h1v-0.1h1v11.6h1v-7.2h1v19.5h1v13.4h1v-6.1h1v9.4h1v7.4h1v10h1v36z" fill="#0A8214" fill-opacity="0.97"/>
<path d="M1038,1376.0v-18.3h1v1.9h1v-5h1v7.8h1v-21.3h1v3.7h1v-2.8h1v-9h1v4.3h1v15.4h1v-25.3h1v3.9h1v-2.3h1v2.7h1v-14.5h1v-24.9h1v19.3h1v7.8h1v-23.8h1v19.3h1v-13.4h1v9.8h1v11.7h1v-19.3h1v30.8h1v-12.2h1v24.2h1v-22.6h1v1.4h1v12.2h1v0.9h1v3.4h1v1.6h1v4.5h1v0.5h1v10.4h1v-10.9h1v-1.8h1v7.6h1v7.5h1v-5.1h1v5.7h1v0.1h1v14.1z" fill="#82AA0A" fill-opacity="0.92"/>
<path d="M1055,1376.0v-1.2h1v-1.1h1v-0.7h1v-2.8h1v0.7h1v-2.4h1v-4.9h1v-10.8h1v7.8h1v-13.8h1v3h1v-4.5h1v-3.8h1v-34h1v38.9h1v0.2h1v0.7h1v3.1h1v4.9h1v10h1v-3.9h1v4.9h1v2.9h1v3.1h1v1h1v1.1h1v1.6z" fill="#0A8CD2"/>
<path d="M993,1376.0v-8.4h1v0h1v8.4zM996,1376.0v-11.4h1v0h1v11.4zM1051,1376.0v-9.5h1v-1.9h1v0h1v11.4zM1081,1376.0v-15.2h1v0h1v15.2zM1178,1376.0v-22.8h1v0h1v22.8z" fill="#82143C"/>
<path d="M1002,1376.0v-7.6h1v0h1v7.6zM1027,1376.0v-7.6h1v7.6zM1083,1376.0v-15.2h1v15.2zM1166,1376.0v-34.2h1v11.4h1v22.8zM1171,1376.0v-34.2h1v0h1v34.2zM1177,1376.0v-20.9h1v20.9z" fill="#0A41F5"/>
<path d="M1006,1376.0v-6.8h1v0h1v6.8zM1088,1376.0v-15.2h1v-5.7h1v20.9z" fill="#0A8214"/>
<path d="M1123,1376.0v-17.1h1v-8.4h1v-3.1h1v-15.2h1v11.8h1v2.1h1v4.9h1v11.7h1v-0.1h1v-9h1v-6.6h1v10.9h1v7.3h1v10.8z" fill="#82143C"/>
<path d="M1133,1376.0v-41.1h1v-17.6h1v1h1v-3.8h1v-45h1v31.9h1v-11.2h1v-11.6h1v45.3h1v13.8h1v10.8h1v-90.5h1v109.1h1v8.9z" fill="#0A8CD2"/>
<path d="M1135,1376.0v-7.8h1v-7h1v-13.3h1v-11h1v-16.3h1v-9h1v-7.4h1v23.2h1v8.5h1v13.4h1v26.7zM1148,1376.0v-30.4h1v30.4zM1178,1376.0v-13.3h1v13.3z" fill="#F5820A"/>
<path d="M1144,1376.0v-69.9h1v-17.4h1v-36.4h1v-86.2h1v31.6h1v-46.1h1v-30.3h1v17.9h1v-143.7h1v0h1v58.7h1v22.1h1v14.3h1v49.8h1v73h1v-96.1h1v166.5h1v1.6h1v31.3h1v23.5h1v12.6h1v8.6h1v14.6z" fill="#0A41F5"/>
<path d="M1148,1376.0v-13.3h1v13.3z" fill="#82143C"/>
<rect x="992" y="995.5" width="194.20000000000005" height="380.5" fill="none" stroke="#000" stroke-width="1.3"/>
<line x1="992" y1="995.5" x2="992" y2="1376" stroke="#000" stroke-width="1.6"/>
<line x1="991.2" y1="1376" x2="1186.8" y2="1376" stroke="#000" stroke-width="2.6"/>
<text x="976.5" y="1382.7" font-size="21.7" fill="#000" stroke="#000" stroke-width="0.38" text-anchor="end" >0</text>
<text x="976.5" y="1344.7" font-size="21.7" fill="#000" stroke="#000" stroke-width="0.38" text-anchor="end" >10</text>
<text x="976.5" y="1306.6" font-size="21.7" fill="#000" stroke="#000" stroke-width="0.38" text-anchor="end" >20</text>
<text x="976.5" y="1268.5" font-size="21.7" fill="#000" stroke="#000" stroke-width="0.38" text-anchor="end" >30</text>
<text x="976.5" y="1230.5" font-size="21.7" fill="#000" stroke="#000" stroke-width="0.38" text-anchor="end" >40</text>
<text x="976.5" y="1192.5" font-size="21.7" fill="#000" stroke="#000" stroke-width="0.38" text-anchor="end" >50</text>
<text x="976.5" y="1154.4" font-size="21.7" fill="#000" stroke="#000" stroke-width="0.38" text-anchor="end" >60</text>
<text x="976.5" y="1116.4" font-size="21.7" fill="#000" stroke="#000" stroke-width="0.38" text-anchor="end" >70</text>
<text x="976.5" y="1078.3" font-size="21.7" fill="#000" stroke="#000" stroke-width="0.38" text-anchor="end" >80</text>
<text x="976.5" y="1040.2" font-size="21.7" fill="#000" stroke="#000" stroke-width="0.38" text-anchor="end" >90</text>
<text x="976.5" y="1002.2" font-size="21.7" fill="#000" stroke="#000" stroke-width="0.38" text-anchor="end" >100</text>
<path d="M977.0,1376.0h15M977.0,1338.0h15M977.0,1299.9h15M977.0,1261.8h15M977.0,1223.8h15M977.0,1185.8h15M977.0,1147.7h15M977.0,1109.7h15M977.0,1071.6h15M977.0,1033.5h15M977.0,995.5h15" stroke="#000" stroke-width="1.4" fill="none"/>
<path d="M1003.0,1376.0v10M1027.8,1376.0v10M1052.6,1376.0v10M1077.4,1376.0v14.5M1102.2,1376.0v10M1127.0,1376.0v10M1151.8,1376.0v10M1176.6,1376.0v10" stroke="#1a1a1a" stroke-width="1.4" fill="none"/>
<text x="1076.5" y="1409.2" font-size="21.7" fill="#000" stroke="#000" stroke-width="0.38" text-anchor="middle" >18</text>
<text x="1088" y="1436.5" font-size="21.7" fill="#000" stroke="#000" stroke-width="0.38" text-anchor="middle" >Time (min)</text>
<text transform="translate(934,1183.8) rotate(-90)" stroke="#000" stroke-width="0.38" font-size="21.7" text-anchor="middle">Relative Abundance</text>
</g>
<g>
<text x="1360" y="961.5" font-size="37.6" fill="#000" stroke="#000" stroke-width="0.5" text-anchor="middle" >N358Q</text>
<path d="M1293.5,1376.0v-7.3M1319.5,1376.0v-7.3M1322.5,1376.0v-20.4M1323.5,1376.0v-17.5M1324.5,1376.0v-24.1M1325.5,1376.0v-13.1M1326.5,1376.0v-24.8M1328.5,1376.0v-36.4M1329.5,1376.0v-29.2M1330.5,1376.0v-49.6M1331.5,1376.0v-32.1M1332.5,1376.0v-23.3M1333.5,1376.0v-31.3M1335.5,1376.0v-21.9M1336.5,1376.0v-39.4M1338.5,1376.0v-41.5M1339.5,1376.0v-20.4M1340.5,1376.0v-21.9M1341.5,1376.0v-14.6M1343.5,1376.0v-17.5M1379.5,1376.0v-13.1" stroke="#0A8CD2" stroke-width="1.5" fill="none" stroke-opacity="0.9"/>
<path d="M1314.5,1376.0v-8M1315.5,1376.0v-7.3M1320.5,1376.0v-11.7M1323.5,1376.0v-10.2M1328.5,1376.0v-14.6M1330.5,1376.0v-10.2M1336.5,1376.0v-23.3M1342.5,1376.0v-36.4M1345.5,1376.0v-8.7M1347.5,1376.0v-9.5M1348.5,1376.0v-10.2M1349.5,1376.0v-17.5M1350.5,1376.0v-13.1M1351.5,1376.0v-17.5M1352.5,1376.0v-16.8M1356.5,1376.0v-15.3M1358.5,1376.0v-22.6M1365.5,1376.0v-16.8M1371.5,1376.0v-29.2M1373.5,1376.0v-32.8M1381.5,1376.0v-16.8M1382.5,1376.0v-23.3M1383.5,1376.0v-14.6M1384.5,1376.0v-41.5M1385.5,1376.0v-25.5M1387.5,1376.0v-19M1388.5,1376.0v-16M1389.5,1376.0v-20.4M1390.5,1376.0v-29.2M1392.5,1376.0v-25.5M1393.5,1376.0v-17.5M1394.5,1376.0v-29.2M1399.5,1376.0v-14.6M1403.5,1376.0v-13.1M1404.5,1376.0v-11.7M1407.5,1376.0v-18.2M1411.5,1376.0v-31.3M1414.5,1376.0v-16.8M1415.5,1376.0v-17.5M1418.5,1376.0v-27.7M1428.5,1376.0v-24.8M1429.5,1376.0v-16M1440.5,1376.0v-35.7M1442.5,1376.0v-21.9M1453.5,1376.0v-23.3M1457.5,1376.0v-22.6M1458.5,1376.0v-21.1M1460.5,1376.0v-16M1461.5,1376.0v-22.6" stroke="#82143C" stroke-width="1.5" fill="none" stroke-opacity="0.85"/>
<path d="M1297.5,1376.0v-7.3M1437.5,1376.0v-14.6" stroke="#41C80A" stroke-width="1.5" fill="none"/>
<path d="M1316.5,1376.0v-6.6" stroke="#0A41F5" stroke-width="1.5" fill="none"/>
<path d="M1454.5,1376.0v-14.6" stroke="#82AA0A" stroke-width="1.5" fill="none"/>
<rect x="1275.3" y="995.5" width="194.5" height="380.5" fill="none" stroke="#000" stroke-width="1.3"/>
<line x1="1275.3" y1="995.5" x2="1275.3" y2="1376" stroke="#000" stroke-width="1.6"/>
<line x1="1274.5" y1="1376" x2="1470.3999999999999" y2="1376" stroke="#000" stroke-width="2.6"/>
<text x="1259.8" y="1382.7" font-size="21.7" fill="#000" stroke="#000" stroke-width="0.38" text-anchor="end" >0</text>
<text x="1259.8" y="1344.7" font-size="21.7" fill="#000" stroke="#000" stroke-width="0.38" text-anchor="end" >10</text>
<text x="1259.8" y="1306.6" font-size="21.7" fill="#000" stroke="#000" stroke-width="0.38" text-anchor="end" >20</text>
<text x="1259.8" y="1268.5" font-size="21.7" fill="#000" stroke="#000" stroke-width="0.38" text-anchor="end" >30</text>
<text x="1259.8" y="1230.5" font-size="21.7" fill="#000" stroke="#000" stroke-width="0.38" text-anchor="end" >40</text>
<text x="1259.8" y="1192.5" font-size="21.7" fill="#000" stroke="#000" stroke-width="0.38" text-anchor="end" >50</text>
<text x="1259.8" y="1154.4" font-size="21.7" fill="#000" stroke="#000" stroke-width="0.38" text-anchor="end" >60</text>
<text x="1259.8" y="1116.4" font-size="21.7" fill="#000" stroke="#000" stroke-width="0.38" text-anchor="end" >70</text>
<text x="1259.8" y="1078.3" font-size="21.7" fill="#000" stroke="#000" stroke-width="0.38" text-anchor="end" >80</text>
<text x="1259.8" y="1040.2" font-size="21.7" fill="#000" stroke="#000" stroke-width="0.38" text-anchor="end" >90</text>
<text x="1259.8" y="1002.2" font-size="21.7" fill="#000" stroke="#000" stroke-width="0.38" text-anchor="end" >100</text>
<path d="M1260.3,1376.0h15M1260.3,1338.0h15M1260.3,1299.9h15M1260.3,1261.8h15M1260.3,1223.8h15M1260.3,1185.8h15M1260.3,1147.7h15M1260.3,1109.7h15M1260.3,1071.6h15M1260.3,1033.5h15M1260.3,995.5h15" stroke="#000" stroke-width="1.4" fill="none"/>
<path d="M1285.9,1376.0v10M1310.7,1376.0v10M1335.5,1376.0v10M1360.3,1376.0v14.5M1385.1,1376.0v10M1409.9,1376.0v10M1434.7,1376.0v10M1459.5,1376.0v10" stroke="#1a1a1a" stroke-width="1.4" fill="none"/>
<text x="1360.0" y="1409.2" font-size="21.7" fill="#000" stroke="#000" stroke-width="0.38" text-anchor="middle" >18</text>
<text x="1371" y="1436.5" font-size="21.7" fill="#000" stroke="#000" stroke-width="0.38" text-anchor="middle" >Time (min)</text>
<text transform="translate(1217,1183.8) rotate(-90)" stroke="#000" stroke-width="0.38" font-size="21.7" text-anchor="middle">Relative Abundance</text>
</g>
<g>
<text x="492.5" y="1745.2" font-size="37.6" fill="#000" stroke="#000" stroke-width="0.5" text-anchor="middle" >N504</text>
<path d="M410,2143.0v-19.8h1v-4.5h1v6.4h1v2.7h1v-9.5h1v10.9h1v-3.6h1v-6.3h1v9.8h1v-7.6h1v-3.1h1v9.6h1v-9.1h1v7.3h1v-5.2h1v4.9h1v2.3h1v-0.5h1v0.3h1v1.5h1v-2.1h1v-8.4h1v-0.1h1v0.6h1v5h1v-5.5h1v3.4h1v3.3h1v-1.5h1v3.8h1v1h1v-5.7h1v-3.6h1v5.2h1v1.6h1v-0.7h1v-1.8h1v-4.7h1v-0.9h1v1h1v7.8h1v-0.8h1v0.9h1v-9h1v0.7h1v7.3h1v2.7h1v-2.7h1v3.2h1v-3.8h1v3.9h1v-6h1v1.1h1v2.4h1v1h1v-7.3h1v6.6h1v1.2h1v-4.6h1v3.3h1v-5.8h1v1.5h1v5.9h1v-3.9h1v4h1v-3.2h1v-6.1h1v9.8h1v-5.3h1v2.4h1v-6.5h1v7.7h1v-5h1v0.9h1v0h1v-2.2h1v-1.8h1v1.8h1v-0.5h1v-1.4h1v4.4h1v-0.4h1v5.8h1v-2.3h1v1.4h1v-8.2h1v8.2h1v-1.1h1v-4.6h1v0.9h1v4.8h1v-7.1h1v6.8h1v-4.3h1v4.3h1v-0.1h1v-8.3h1v3.3h1v4.7h1v-8.9h1v5.9h1v-1.2h1v-4.7h1v6.9h1v0h1v-7.4h1v0.8h1v0.7h1v3.8h1v-4.8h1v5.9h1v0.7h1v3.3h1v-4.9h1v4.1h1v-7.3h1v1.7h1v-2.9h1v9.7h1v-2.6h1v-0.1h1v-7.4h1v7.7h1v-2.1h1v1.6h1v-4.1h1v0.6h1v1h1v0.5h1v3.6h1v0.2h1v-3.1h1v1.9h1v-3.5h1v-0.7h1v-0.5h1v-0.7h1v1.9h1v0.9h1v2.6h1v-3.1h1v-0.9h1v2.7h1v1.3h1v-2.9h1v-5.7h1v2.5h1v8.1h1v-4.3h1v0.6h1v-4h1v5.9h1v-5.9h1v4.6h1v-3.9h1v-2h1v3.8h1v-2.6h1v3.1h1v-2.7h1v6.7h1v1.4h1v-6.7h1v-4.3h1v6.3h1v-5.3h1v5.7h1v-0.9h1v1.9h1v-3h1v2.7h1v-6.1h1v4.7h1v1.6h1v-3.1h1v5.5h1v-2.7h1v-5.9h1v7.3h1v-8.1h1v9.9h1v-5.2h1v-3.1h1v-2.6h1v5.5h1v1.5h1v-2.4h1v-4h1v4.8h1v1.8h1v-2.2h1v-3.6h1v4.5h1v-1.6h1v20.5z" fill="#0A8CD2"/>
<path d="M411,2143.0v-28.4h1v28.4zM413,2143.0v-23.2h1v23.2zM417,2143.0v-37.5h1v37.5zM423,2143.0v-22.5h1v22.5zM426,2143.0v-19.8h1v19.8zM429,2143.0v-39.9h1v39.9zM431,2143.0v-25.5h1v25.5zM433,2143.0v-32.4h1v9.6h1v22.8zM438,2143.0v-27.6h1v27.6zM440,2143.0v-31.3h1v31.3zM444,2143.0v-18.3h1v-15.8h1v16.3h1v-10.4h1v28.2zM451,2143.0v-15.6h1v15.6zM453,2143.0v-33h1v13.5h1v1.8h1v17.7zM458,2143.0v-26.4h1v9.8h1v16.6zM465,2143.0v-16.4h1v16.4zM468,2143.0v-37.6h1v37.6zM494,2143.0v-1.2h1v0.5h1v-0.5h1v-1.6h1v-2h1v0.9h1v-6h1v1.5h1v-4h1v-4.1h1v3.7h1v-101.7h1v95.5h1v-22.8h1v-7.8h1v3.2h1v-2.2h1v-1.6h1v-1.3h1v-36.9h1v-5.1h1v47.4h1v-91.3h1v58h1v-78.4h1v13h1v-68.8h1v99.7h1v-54h1v-10.6h1v71.4h1v-8.2h1v-1.3h1v33h1v-35.7h1v-71.6h1v52.7h1v46.8h1v-7.7h1v-53.6h1v50.3h1v50.4h1v-28.2h1v33.9h1v-4.5h1v16.6h1v-4.7h1v3.3h1v22.7h1v-10.8h1v9.3h1v7.5h1v-3.2h1v2.7h1v3.5h1v-1.6h1v1.5h1v1.8h1v0.6h1v0.8h1v0.8zM562,2143.0v-38.3h1v38.3zM565,2143.0v-29h1v29zM568,2143.0v-38.2h1v38.2zM570,2143.0v-20.1h1v20.1zM573,2143.0v-24.7h1v-12.5h1v-2.8h1v40zM577,2143.0v-35h1v35zM581,2143.0v-21.1h1v21.1zM590,2143.0v-35.1h1v35.1zM594,2143.0v-36.5h1v1.3h1v35.2zM597,2143.0v-31.6h1v31.6zM601,2143.0v-20.4h1v20.4z" fill="#0A8CD2"/>
<path d="M427,2143.0v-17.8h1v-3.4h1v-51.3h1v29.8h1v-21.4h1v-20.9h1v-71.5h1v23.7h1v-32.4h1v48.2h1v-142.6h1v82h1v-27.2h1v-96.7h1v20.1h1v-13.4h1v-10.6h1v79.2h1v-12.1h1v80.6h1v-6.4h1v-7.4h1v33.6h1v23.9h1v23.1h1v25.1h1v18.5h1v-4.6h1v24.9h1v6.8h1v6.7h1v0h1v6.3h1v2.4h1v1.4h1v1.5h1v0.6h1v1.3z" fill="#0A8214"/>
<path d="M425,2143.0v-1.3h1v-1h1v-0.6h1v-2.6h1v-1.7h1v-3.6h1v-5.3h1v-0.2h1v-6.8h1v-14h1v-8.5h1v-14.1h1v19.6h1v-45h1v-18.5h1v-6.6h1v-66.4h1v-136.4h1v128.8h1v-197.5h1v177.3h1v-56.4h1v8.4h1v27.6h1v-137.8h1v193.9h1v-25.6h1v-25h1v1.8h1v107.3h1v-122.6h1v124.7h1v18.9h1v-1h1v33.2h1v13.5h1v-105.4h1v120.8h1v4.1h1v7.7h1v7.4h1v8.9z" fill="#41C80A" fill-opacity="0.96"/>
<path d="M413,2143.0v-42h1v42zM419,2143.0v-30.5h1v30.5zM427,2143.0v-26.7h1v26.7zM466,2143.0v-39.3h1v-7.5h1v-9.1h1v-25.5h1v7.6h1v4.2h1v-22.7h1v2.5h1v-64.3h1v-59.7h1v104.7h1v18.4h1v-97.2h1v18.8h1v14.9h1v-36.7h1v-27.8h1v-1.7h1v-20.1h1v76.9h1v21.9h1v-43.5h1v49.5h1v23h1v29.1h1v-95.8h1v113h1v-18.3h1v4.3h1v38.1h1v15.7h1v-6.5h1v-39.4h1v52.1h1v4.1h1v-2.2h1v18.5zM573,2143.0v-13.8h1v0.6h1v-6.8h1v4.5h1v-8.1h1v-8.3h1v-13.5h1v13.1h1v-16.9h1v-50h1v81.2h1v-35.7h1v-22.4h1v-7.9h1v17.8h1v2.4h1v11.7h1v-39.1h1v37.9h1v-39.6h1v13.6h1v-31.4h1v53.8h1v26.7h1v-23.5h1v-9.7h1v-32h1v95.2h1v-34h1v14.7h1v5.6h1v13.9z" fill="#4B5A0A"/>
<path d="M416,2143.0v-30.5h1v30.5zM593,2143.0v-91.6h1v91.6z" fill="#41C80A"/>
<path d="M426,2143.0v-22.9h1v22.9zM538,2143.0v-15.9h1v-10.1h1v-4h1v-96h1v69.8h1v7.8h1v-18.6h1v-28.5h1v-29.1h1v15.8h1v-108.8h1v94.4h1v11.4h1v-54.8h1v-31.9h1v-42h1v48.8h1v-48.8h1v1.2h1v61.9h1v-17.3h1v81.1h1v-15.7h1v-4.2h1v17.5h1v33.2h1v4.1h1v16.6h1v12.1h1v-12.8h1v0h1v18.3h1v8.1h1v9.3h1v21.7h1v-0.9h1v-39.5h1v45.8z" fill="#0A41F5"/>
<path d="M434,2143.0v-15.6h1v-0.5h1v16.1zM438,2143.0v-27.8h1v27.8zM440,2143.0v-17.6h1v17.6zM443,2143.0v-15.7h1v15.7zM454,2143.0v-25.1h1v1.2h1v23.9zM458,2143.0v-22.8h1v22.8zM531,2143.0v-46.5h1v-45.1h1v25.1h1v18.1h1v3.6h1v3.4h1v-48h1v-4.5h1v35.9h1v-68h1v11.5h1v30.6h1v-9h1v18.6h1v11.6h1v-32.7h1v36.4h1v19.1h1v24.3h1v-45.5h1v40.9h1v1.2h1v2.3h1v-78.7h1v79.9h1v15.5zM558,2143.0v-3.6h1v2.5h1v1.1zM594,2143.0v-20.8h1v20.8zM596,2143.0v-33h1v33zM599,2143.0v-21.7h1v21.7zM601,2143.0v-24.3h1v24.3z" fill="#F5820A"/>
<path d="M416,2143.0v-19.6h1v19.6zM419,2143.0v-17h1v0.6h1v-8.1h1v24.5zM424,2143.0v-19.8h1v19.8zM431,2143.0v-23.1h1v1.9h1v1.7h1v-0.1h1v2h1v17.6zM437,2143.0v-17.3h1v17.3zM439,2143.0v-19h1v-5.8h1v2.2h1v22.6zM443,2143.0v-20.1h1v20.1zM446,2143.0v-15.8h1v15.8zM448,2143.0v-23.4h1v3.5h1v19.9zM452,2143.0v-19.7h1v19.7zM455,2143.0v-26.4h1v26.4zM457,2143.0v-22.9h1v6.8h1v16.1zM460,2143.0v-21.3h1v21.3zM464,2143.0v-22.1h1v11.2h1v-4h1v-4.2h1v-5.4h1v-5.9h1v1h1v-60.3h1v40.1h1v-23.9h1v-0.4h1v-7.3h1v-6.6h1v12.7h1v-2.9h1v-12.7h1v6.2h1v-7.1h1v23.1h1v15.9h1v-7.7h1v12.7h1v9.5h1v6.5h1v9.8h1v3.3h1v2.4h1v6.6h1v3.6h1v-0.2h1v-15h1v4.2h1v16.9zM497,2143.0v-17.1h1v17.1zM502,2143.0v-11.9h1v11.9zM507,2143.0v-14h1v-6.8h1v8.3h1v12.5zM562,2143.0v-25.7h1v25.7zM564,2143.0v-16.1h1v16.1zM566,2143.0v-24.2h1v22.9h1v0h1v-0.8h1v-18.3h1v14.4h1v-24.4h1v11.1h1v0.1h1v3.6h1v1.3h1v-33.1h1v6.4h1v10.5h1v-16.1h1v-20.3h1v16.9h1v7.8h1v-9.3h1v-21h1v13.5h1v-12.2h1v41.2h1v-18.1h1v7.1h1v1.5h1v19h1v-2.7h1v-2.9h1v4.2h1v21.9zM597,2143.0v-29.5h1v0.8h1v6.8h1v21.9zM601,2143.0v-28.4h1v4h1v-5h1v29.4z" fill="#FF4A3C"/>
<path d="M414,2143.0v-23.7h1v23.7zM418,2143.0v-23.1h1v-2h1v1h1v24.1zM424,2143.0v-17.9h1v17.9zM430,2143.0v-16.7h1v16.7zM432,2143.0v-22.8h1v22.8zM434,2143.0v-22.4h1v-1h1v23.4zM438,2143.0v-21.4h1v4.2h1v17.2zM488,2143.0v-26.7h1v26.7zM494,2143.0v-6.6h1v-3.2h1v-2.9h1v-2.1h1v-9h1v-0.1h1v-10.1h1v-3.5h1v1.7h1v-3.5h1v-10.6h1v5h1v-17.9h1v5h1v-5.7h1v-21h1v4.3h1v-16.8h1v24.4h1v-19h1v17h1v16.9h1v-1.4h1v-17.2h1v-6h1v7h1v-3.6h1v25.3h1v11.5h1v-9.4h1v8.4h1v7.2h1v9.3h1v3.1h1v-0.7h1v10.5h1v-2.3h1v4.7h1v3.1h1v1.9h1v1.6h1v0.5h1v1.7h1v0.5h1v2zM576,2143.0v-39.5h1v39.5zM579,2143.0v-40.9h1v40.9zM584,2143.0v-37.2h1v9.3h1v-2.5h1v30.4zM588,2143.0v-39.9h1v6h1v-0.4h1v34.3zM593,2143.0v-27.6h1v27.6zM596,2143.0v-34.7h1v34.7zM599,2143.0v-38.4h1v38.4zM602,2143.0v-53.4h1v0h1v53.4z" fill="#82143C"/>
<rect x="409.7" y="1761.3" width="194.3" height="381.70000000000005" fill="none" stroke="#000" stroke-width="1.3"/>
<line x1="409.7" y1="1761.3" x2="409.7" y2="2143" stroke="#000" stroke-width="1.6"/>
<line x1="408.9" y1="2143" x2="604.6" y2="2143" stroke="#000" stroke-width="1.6"/>
<text x="394.2" y="2149.7" font-size="21.7" fill="#000" stroke="#000" stroke-width="0.38" text-anchor="end" >0</text>
<text x="394.2" y="2111.5" font-size="21.7" fill="#000" stroke="#000" stroke-width="0.38" text-anchor="end" >10</text>
<text x="394.2" y="2073.4" font-size="21.7" fill="#000" stroke="#000" stroke-width="0.38" text-anchor="end" >20</text>
<text x="394.2" y="2035.2" font-size="21.7" fill="#000" stroke="#000" stroke-width="0.38" text-anchor="end" >30</text>
<text x="394.2" y="1997.0" font-size="21.7" fill="#000" stroke="#000" stroke-width="0.38" text-anchor="end" >40</text>
<text x="394.2" y="1958.9" font-size="21.7" fill="#000" stroke="#000" stroke-width="0.38" text-anchor="end" >50</text>
<text x="394.2" y="1920.7" font-size="21.7" fill="#000" stroke="#000" stroke-width="0.38" text-anchor="end" >60</text>
<text x="394.2" y="1882.5" font-size="21.7" fill="#000" stroke="#000" stroke-width="0.38" text-anchor="end" >70</text>
<text x="394.2" y="1844.3" font-size="21.7" fill="#000" stroke="#000" stroke-width="0.38" text-anchor="end" >80</text>
<text x="394.2" y="1806.2" font-size="21.7" fill="#000" stroke="#000" stroke-width="0.38" text-anchor="end" >90</text>
<text x="394.2" y="1768.0" font-size="21.7" fill="#000" stroke="#000" stroke-width="0.38" text-anchor="end" >100</text>
<path d="M394.7,2143.0h15M394.7,2104.8h15M394.7,2066.7h15M394.7,2028.5h15M394.7,1990.3h15M394.7,1952.2h15M394.7,1914.0h15M394.7,1875.8h15M394.7,1837.6h15M394.7,1799.5h15M394.7,1761.3h15" stroke="#000" stroke-width="1.4" fill="none"/>
<path d="M409.8,2143.0v14.5M429.6,2143.0v10M449.3,2143.0v10M469.1,2143.0v10M488.8,2143.0v10M508.6,2143.0v14.5M528.4,2143.0v10M548.1,2143.0v10M567.9,2143.0v10M587.6,2143.0v10" stroke="#1a1a1a" stroke-width="1.4" fill="none"/>
<text x="409.5" y="2174.5" font-size="21.7" fill="#000" stroke="#000" stroke-width="0.38" text-anchor="middle" >16</text>
<text x="508.5" y="2174.5" font-size="21.7" fill="#000" stroke="#000" stroke-width="0.38" text-anchor="middle" >17</text>
<text x="505.5" y="2201" font-size="21.7" fill="#000" stroke="#000" stroke-width="0.38" text-anchor="middle" >Time (min)</text>
<text transform="translate(351,1950.2) rotate(-90)" stroke="#000" stroke-width="0.38" font-size="21.7" text-anchor="middle">Relative Abundance</text>
</g>
<g>
<text x="783" y="1745.2" font-size="37.6" fill="#000" stroke="#000" stroke-width="0.5" text-anchor="middle" >N504Q</text>
<path d="M709.5,2143.0v-24M722.5,2143.0v-42.2M727.5,2143.0v-60.5M729.5,2143.0v-44.4M731.5,2143.0v-27.7M735.5,2143.0v-40.1M736.5,2143.0v-23.3M740.5,2143.0v-24.8M741.5,2143.0v-24.8M742.5,2143.0v-37.9M751.5,2143.0v-23.3M759.5,2143.0v-18.9M762.5,2143.0v-25.5M776.5,2143.0v-18.2M782.5,2143.0v-31.3M787.5,2143.0v-18.2M795.5,2143.0v-17.5M813.5,2143.0v-19.7M853.5,2143.0v-32.8M859.5,2143.0v-37.6M860.5,2143.0v-24.8M876.5,2143.0v-31.3M879.5,2143.0v-41.5M880.5,2143.0v-41.5M885.5,2143.0v-32.1M887.5,2143.0v-28.4" stroke="#0A8CD2" stroke-width="1.5" fill="none" stroke-opacity="0.92"/>
<path d="M711.5,2143.0v-30.6M738.5,2143.0v-23.3M862.5,2143.0v-21.1" stroke="#0A8214" stroke-width="1.5" fill="none"/>
<path d="M714.5,2143.0v-31.3" stroke="#82143C" stroke-width="1.6" fill="none" stroke-opacity="0.8"/>
<path d="M723.5,2143.0v-45.9M745.5,2143.0v-24M753.5,2143.0v-21.1M796.5,2143.0v-18.9M828.5,2143.0v-21.9" stroke="#41C80A" stroke-width="1.5" fill="none"/>
<path d="M728.5,2143.0v-29.9M784.5,2143.0v-18.2" stroke="#FF4A3C" stroke-width="1.6" fill="none" stroke-opacity="0.9"/>
<path d="M737.5,2143.0v-32.8" stroke="#4B5A0A" stroke-width="1.5" fill="none"/>
<path d="M792.5,2143.0v-15.3" stroke="#3C50FF" stroke-width="1.6" fill="none"/>
<rect x="693.5" y="1761.3" width="194.5" height="381.70000000000005" fill="none" stroke="#000" stroke-width="1.3"/>
<line x1="693.5" y1="1761.3" x2="693.5" y2="2143" stroke="#000" stroke-width="1.6"/>
<line x1="692.7" y1="2143" x2="888.6" y2="2143" stroke="#000" stroke-width="2.6"/>
<text x="678.0" y="2149.7" font-size="21.7" fill="#000" stroke="#000" stroke-width="0.38" text-anchor="end" >0</text>
<text x="678.0" y="2111.5" font-size="21.7" fill="#000" stroke="#000" stroke-width="0.38" text-anchor="end" >10</text>
<text x="678.0" y="2073.4" font-size="21.7" fill="#000" stroke="#000" stroke-width="0.38" text-anchor="end" >20</text>
<text x="678.0" y="2035.2" font-size="21.7" fill="#000" stroke="#000" stroke-width="0.38" text-anchor="end" >30</text>
<text x="678.0" y="1997.0" font-size="21.7" fill="#000" stroke="#000" stroke-width="0.38" text-anchor="end" >40</text>
<text x="678.0" y="1958.9" font-size="21.7" fill="#000" stroke="#000" stroke-width="0.38" text-anchor="end" >50</text>
<text x="678.0" y="1920.7" font-size="21.7" fill="#000" stroke="#000" stroke-width="0.38" text-anchor="end" >60</text>
<text x="678.0" y="1882.5" font-size="21.7" fill="#000" stroke="#000" stroke-width="0.38" text-anchor="end" >70</text>
<text x="678.0" y="1844.3" font-size="21.7" fill="#000" stroke="#000" stroke-width="0.38" text-anchor="end" >80</text>
<text x="678.0" y="1806.2" font-size="21.7" fill="#000" stroke="#000" stroke-width="0.38" text-anchor="end" >90</text>
<text x="678.0" y="1768.0" font-size="21.7" fill="#000" stroke="#000" stroke-width="0.38" text-anchor="end" >100</text>
<path d="M678.5,2143.0h15M678.5,2104.8h15M678.5,2066.7h15M678.5,2028.5h15M678.5,1990.3h15M678.5,1952.2h15M678.5,1914.0h15M678.5,1875.8h15M678.5,1837.6h15M678.5,1799.5h15M678.5,1761.3h15" stroke="#000" stroke-width="1.4" fill="none"/>
<path d="M693.6,2143.0v14.5M713.4,2143.0v10M733.1,2143.0v10M752.9,2143.0v10M772.6,2143.0v10M792.4,2143.0v14.5M812.2,2143.0v10M831.9,2143.0v10M851.7,2143.0v10M871.4,2143.0v10" stroke="#1a1a1a" stroke-width="1.4" fill="none"/>
<text x="693.0" y="2174.5" font-size="21.7" fill="#000" stroke="#000" stroke-width="0.38" text-anchor="middle" >16</text>
<text x="792.0" y="2174.5" font-size="21.7" fill="#000" stroke="#000" stroke-width="0.38" text-anchor="middle" >17</text>
<text x="789" y="2201" font-size="21.7" fill="#000" stroke="#000" stroke-width="0.38" text-anchor="middle" >Time (min)</text>
<text transform="translate(635,1950.2) rotate(-90)" stroke="#000" stroke-width="0.38" font-size="21.7" text-anchor="middle">Relative Abundance</text>
</g>
<g>
<text x="1092" y="1745.2" font-size="37.6" fill="#000" stroke="#000" stroke-width="0.5" text-anchor="middle" >N630</text>
<path d="M990,2149.3v-1.1h1v-0.5h1v-0.8h1v-1h1v-1.6h1v-2.1h1v-3h1v-2.9h1v-4.4h1v-3.6h1v-8h1v-8.3h1v-8.5h1v-8.7h1v-11.2h1v-6.7h1v-13.7h1v-1.4h1v-17.7h1v-0.1h1v-14.4h1v4h1v-13.9h1v1.9h1v0.1h1v12h1v4.9h1v6.2h1v17.3h1v3.6h1v13.5h1v5.1h1v9.1h1v21.4h1v-0.2h1v7.4h1v8.9h1v2h1v3.2h1v3.6h1v2.8h1v1.9h1v1.5h1v0.9h1v0.8h1v0.6h1v1.1z" fill="#0A8214"/>
<path d="M992,2149.3v-1.2h1v-0.6h1v-1h1v-1.1h1v-1.5h1v-1.9h1v-2.3h1v-3.1h1v-4.7h1v-4.2h1v-5.9h1v0.8h1v-15h1v-9h1v5.2h1v-21h1v-8.3h1v-5.4h1v7.4h1v-20.6h1v-1.9h1v-9.8h1v1.7h1v0.5h1v-1.3h1v7.2h1v0.9h1v8.8h1v11.2h1v5h1v9.2h1v8.7h1v5.9h1v9.9h1v6.5h1v6h1v5.3h1v4.4h1v3.7h1v2.8h1v2.2h1v1.9h1v1.3h1v1h1v-0.8h1v2h1v-2.5h1v1h1v0h1v-1.5h1v4.1zM1043,2149.3v-2.6h1v2.6zM1045,2149.3v-2.6h1v0.4h1v-0.6h1v-1.3h1v1.7h1v2.4zM1051,2149.3v-3.8h1v0.1h1v1.4h1v-0.7h1v-0.4h1v0.9h1v-1.5h1v1.4h1v0.1h1v0.5h1v2zM1062,2149.3v-2.7h1v2.7zM1064,2149.3v-2.5h1v-0.7h1v-0.3h1v-0.3h1v1.2h1v-1.5h1v0.6h1v0.7h1v2.8zM1073,2149.3v-2.7h1v-1h1v1.4h1v2.3zM1077,2149.3v-3.1h1v-0.9h1v1.3h1v2.7z" fill="#41C80A" fill-opacity="0.95"/>
<path d="M1069,2149.3v-1.7h1v-0.9h1v-1.1h1v-1.4h1v-2.3h1v-3.4h1v-1.8h1v-2.4h1v-2.1h1v2.1h1v-0.1h1v1.2h1v0.3h1v4.8h1v-0.1h1v1.9h1v1.5h1v1.6h1v1.3h1v1.4h1v1.2z" fill="#FF4A3C"/>
<path d="M1084,2149.3v-1h1v-0.7h1v-0.4h1v-1.6h1v0.2h1v-2.2h1v-1.5h1v-0.9h1v-0.2h1v-1h1v0.5h1v0.1h1v2.6h1v0.1h1v1.3h1v1.1h1v1.1h1v0.7h1v0.6h1v1.2z" fill="#FFE632"/>
<path d="M1095,2149.3v-1.3h1v-1.1h1v-0.8h1v-3.4h1v-4.2h1v-3.8h1v-2.6h1v-3.8h1v-7.6h1v7.8h1v0.3h1v3.3h1v3.9h1v3.6h1v4.7h1v2.8h1v1h1v1.2z" fill="#82143C"/>
<path d="M982,2149.3v-2h1v2zM986,2149.3v-3h1v-0.2h1v3.2zM990,2149.3v-2.9h1v2.9zM993,2149.3v-3.4h1v3.4zM996,2149.3v-3h1v3zM999,2149.3v-2.5h1v2.5zM1002,2149.3v-2.8h1v2.8zM1005,2149.3v-2h1v-1h1v3zM1019,2149.3v-2.9h1v2.9zM1031,2149.3v-2.6h1v2.6zM1042,2149.3v-2.3h1v2.3zM1051,2149.3v-3.2h1v3.2zM1066,2149.3v-2.2h1v2.2zM1069,2149.3v-2.3h1v2.3zM1072,2149.3v-4.3h1v1.2h1v-0.8h1v0.8h1v-1.1h1v1.1h1v-0.8h1v0.4h1v-0.9h1v0.4h1v0.6h1v3.4zM1084,2149.3v-3.2h1v0h1v-0.5h1v-0.3h1v0.3h1v-0.5h1v0.4h1v-0.3h1v0.7h1v-0.7h1v0.8h1v3.3zM1096,2149.3v-3.1h1v-1.5h1v1h1v-0.7h1v0.1h1v1h1v-0.4h1v0h1v-1.7h1v-0.6h1v-1.8h1v-0.1h1v-0.3h1v1.3h1v-1.1h1v1.5h1v1.3h1v0.1h1v0.7h1v-0.1h1v1.8h1v-1.7h1v0h1v0.3h1v1.9h1v2.1zM1126,2149.3v-1.9h1v1.9zM1128,2149.3v-3.4h1v3.4zM1131,2149.3v-3.1h1v3.1zM1135,2149.3v-2.3h1v2.3zM1148,2149.3v-2.9h1v2.9zM1151,2149.3v-2.6h1v0h1v2.6zM1154,2149.3v-2.1h1v2.1zM1159,2149.3v-2h1v2zM1164,2149.3v-2.2h1v2.2zM1170,2149.3v-3.3h1v3.3z" fill="#FF50E6"/>
<path d="M1129,2149.3v-0.9h1v-1.2h1v-1.8h1v-1.5h1v-6.1h1v-7.6h1v-10.9h1v-16h1v-21h1v-27.5h1v-35.4h1v-37.1h1v-42.3h1v-47.4h1v-41.3h1v-36.7h1v-21h1v-25.6h1v7.6h1v82.3h1v-51.8h1v18.9h1v23.2h1v24.3h1v88h1v-23.6h1v32.7h1v26.7h1v34.9h1v17.9h1v20.6h1v18.6h1v13.9h1v10.8h1v16h1v1.5h1v8.2h1v1.4h1v3.1h1v2h1v1.4h1v1h1v0.6h1v1.1z" fill="#0A41F5"/>
<path d="M1120,2149.3v-1.2h1v-0.9h1v-1.2h1v-1.8h1v-2.8h1v-3.5h1v-4.4h1v-3.5h1v-11.1h1v-9.5h1v-9.6h1v-14.3h1v-3.5h1v-12.6h1v1.8h1v-10.6h1v-2.8h1v3.6h1v13.7h1v-5h1v11.8h1v12.8h1v10.5h1v17h1v-0.3h1v7.5h1v5.6h1v3.6h1v3.8h1v2.5h1v1.7h1v1h1v0.7h1v1z" fill="#F5820A"/>
<path d="M1120,2149.3v-2.8h1v-0.4h1v0.6h1v2.6zM1130,2149.3v-3.4h1v3.4zM1138,2149.3v-1.9h1v-1.5h1v-1.2h1v-1h1v-4.1h1v-0.8h1v0.8h1v2.6h1v1.4h1v2.7h1v-6.5h1v-3.8h1v5.7h1v5.1h1v2.5z" fill="#82143C"/>
<path d="M984,2149.3v-2.6h1v2.6zM990,2149.3v-2.7h1v2.7zM995,2149.3v-2.6h1v2.6zM1001,2149.3v-2.7h1v2.7zM1022,2149.3v-2.6h1v0.6h1v2zM1030,2149.3v-2.5h1v2.5zM1036,2149.3v-2h1v2zM1051,2149.3v-2.4h1v2.4zM1054,2149.3v-3h1v3zM1060,2149.3v-2.8h1v2.8zM1063,2149.3v-2.4h1v-0.6h1v0.8h1v2.2zM1068,2149.3v-2h1v2zM1080,2149.3v-2.2h1v2.2zM1094,2149.3v-2.8h1v2.8zM1111,2149.3v-2.8h1v2.8zM1123,2149.3v-2.2h1v2.2zM1145,2149.3v-1.2h1v-0.4h1v-1.7h1v-1.7h1v-0.6h1v0.1h1v1.7h1v0.3h1v0.6h1v1.8h1v1.1zM1163,2149.3v-2.3h1v-0.5h1v2.8zM1166,2149.3v-2h1v2z" fill="#FFE632"/>
<path d="M988,2149.3v-2.8h1v2.8zM995,2149.3v-2.5h1v2.5zM999,2149.3v-3.3h1v0.5h1v2.8zM1004,2149.3v-2.7h1v2.7zM1008,2149.3v-3h1v3z" fill="#F5820A"/>
<rect x="979.5" y="1768.0" width="194.5" height="381.3000000000002" fill="none" stroke="#000" stroke-width="1.3"/>
<line x1="979.5" y1="1768.0" x2="979.5" y2="2149.3" stroke="#000" stroke-width="1.6"/>
<line x1="978.7" y1="2149.3" x2="1174.6" y2="2149.3" stroke="#000" stroke-width="1.6"/>
<text x="964.0" y="2156.0" font-size="21.7" fill="#000" stroke="#000" stroke-width="0.38" text-anchor="end" >0</text>
<text x="964.0" y="2117.9" font-size="21.7" fill="#000" stroke="#000" stroke-width="0.38" text-anchor="end" >10</text>
<text x="964.0" y="2079.7" font-size="21.7" fill="#000" stroke="#000" stroke-width="0.38" text-anchor="end" >20</text>
<text x="964.0" y="2041.6" font-size="21.7" fill="#000" stroke="#000" stroke-width="0.38" text-anchor="end" >30</text>
<text x="964.0" y="2003.5" font-size="21.7" fill="#000" stroke="#000" stroke-width="0.38" text-anchor="end" >40</text>
<text x="964.0" y="1965.4" font-size="21.7" fill="#000" stroke="#000" stroke-width="0.38" text-anchor="end" >50</text>
<text x="964.0" y="1927.2" font-size="21.7" fill="#000" stroke="#000" stroke-width="0.38" text-anchor="end" >60</text>
<text x="964.0" y="1889.1" font-size="21.7" fill="#000" stroke="#000" stroke-width="0.38" text-anchor="end" >70</text>
<text x="964.0" y="1851.0" font-size="21.7" fill="#000" stroke="#000" stroke-width="0.38" text-anchor="end" >80</text>
<text x="964.0" y="1812.8" font-size="21.7" fill="#000" stroke="#000" stroke-width="0.38" text-anchor="end" >90</text>
<text x="964.0" y="1774.7" font-size="21.7" fill="#000" stroke="#000" stroke-width="0.38" text-anchor="end" >100</text>
<path d="M964.5,2149.3h15M964.5,2111.2h15M964.5,2073.0h15M964.5,2034.9h15M964.5,1996.8h15M964.5,1958.7h15M964.5,1920.5h15M964.5,1882.4h15M964.5,1844.3h15M964.5,1806.1h15M964.5,1768.0h15" stroke="#000" stroke-width="1.4" fill="none"/>
<path d="M979.8,2149.3v14.5M1002.8,2149.3v10M1025.8,2149.3v10M1048.8,2149.3v10M1071.8,2149.3v10M1094.8,2149.3v14.5M1117.8,2149.3v10M1140.8,2149.3v10M1163.8,2149.3v10" stroke="#1a1a1a" stroke-width="1.4" fill="none"/>
<text x="979.5" y="2180.5" font-size="21.7" fill="#000" stroke="#000" stroke-width="0.38" text-anchor="middle" >10</text>
<text x="1095.0" y="2180.5" font-size="21.7" fill="#000" stroke="#000" stroke-width="0.38" text-anchor="middle" >11</text>
<text x="1075.5" y="2207.5" font-size="21.7" fill="#000" stroke="#000" stroke-width="0.38" text-anchor="middle" >Time (min)</text>
<text transform="translate(919.7,1956.7) rotate(-90)" stroke="#000" stroke-width="0.38" font-size="21.7" text-anchor="middle">Relative Abundance</text>
</g>
<path d="M1054.5,2054v-12.5h31M1143,2054v-12.5h-30" fill="none" stroke="#222" stroke-width="1.4"/>
<text x="1098.5" y="2050.5" font-size="21" fill="#000" stroke="#000" stroke-width="0.38" text-anchor="middle" >x5</text>
<g>
<text x="1360" y="1745.2" font-size="37.6" fill="#000" stroke="#000" stroke-width="0.5" text-anchor="middle" >N630Q</text>
<path d="M1292,2149.3v-2.1h1v2.1zM1309,2149.3v-1.5h1v1.5zM1328,2149.3v-2.6h1v2.6zM1330,2149.3v-1.6h1v1.6zM1347,2149.3v-1.7h1v1.7zM1361,2149.3v-2.3h1v2.3zM1372,2149.3v-2.5h1v2.5zM1395,2149.3v-2.6h1v2.6zM1397,2149.3v-1.9h1v1.9zM1422,2149.3v-1.7h1v-0.7h1v2.4zM1426,2149.3v-1.8h1v1.8zM1433,2149.3v-2.6h1v2.6zM1439,2149.3v-2.5h1v2.5zM1443,2149.3v-1.6h1v1.6zM1445,2149.3v-2.3h1v2.3zM1447,2149.3v-1.7h1v1.7z" fill="#0A8CD2"/>
<path d="M1272,2149.3v-2.1h1v2.1zM1274,2149.3v-2h1v2zM1290,2149.3v-2.4h1v2.4zM1293,2149.3v-2.4h1v2.4zM1365,2149.3v-2.7h1v2.7zM1373,2149.3v-2.1h1v2.1zM1377,2149.3v-2.1h1v2.1zM1439,2149.3v-1.8h1v1.8z" fill="#41C80A"/>
<path d="M1265,2149.3v-2.2h1v2.2zM1276,2149.3v-1.6h1v1.6zM1281,2149.3v-2h1v2zM1285,2149.3v-1.8h1v1.8zM1328,2149.3v-1.6h1v1.6zM1365,2149.3v-1.7h1v1.7zM1370,2149.3v-2.1h1v2.1zM1382,2149.3v-1.8h1v1.8zM1418,2149.3v-2.3h1v2.3zM1422,2149.3v-2.2h1v2.2zM1431,2149.3v-1.6h1v1.6zM1441,2149.3v-1.6h1v1.6z" fill="#FF50E6"/>
<path d="M1307,2149.3v-2.6h1v2.6zM1347,2149.3v-2h1v2zM1349,2149.3v-2h1v2zM1355,2149.3v-2.3h1v2.3zM1365,2149.3v-1.9h1v1.9zM1382,2149.3v-2.4h1v2.4zM1388,2149.3v-2h1v2zM1404,2149.3v-1.6h1v1.6zM1450,2149.3v-1.8h1v1.8z" fill="#0A41F5"/>
<path d="M1296,2149.3v-2.6h1v2.6zM1304,2149.3v-2.5h1v2.5zM1313,2149.3v-1.9h1v1.9zM1356,2149.3v-2.4h1v2.4zM1383,2149.3v-2.4h1v2.4zM1416,2149.3v-2.6h1v2.6zM1418,2149.3v-2.4h1v2.4zM1453,2149.3v-1.9h1v1.9z" fill="#F5820A"/>
<rect x="1263.5" y="1768.0" width="194.0" height="381.3000000000002" fill="none" stroke="#000" stroke-width="1.3"/>
<line x1="1263.5" y1="1768.0" x2="1263.5" y2="2149.3" stroke="#000" stroke-width="1.6"/>
<line x1="1262.7" y1="2149.3" x2="1458.1" y2="2149.3" stroke="#000" stroke-width="2.6"/>
<text x="1248.0" y="2156.0" font-size="21.7" fill="#000" stroke="#000" stroke-width="0.38" text-anchor="end" >0</text>
<text x="1248.0" y="2117.9" font-size="21.7" fill="#000" stroke="#000" stroke-width="0.38" text-anchor="end" >10</text>
<text x="1248.0" y="2079.7" font-size="21.7" fill="#000" stroke="#000" stroke-width="0.38" text-anchor="end" >20</text>
<text x="1248.0" y="2041.6" font-size="21.7" fill="#000" stroke="#000" stroke-width="0.38" text-anchor="end" >30</text>
<text x="1248.0" y="2003.5" font-size="21.7" fill="#000" stroke="#000" stroke-width="0.38" text-anchor="end" >40</text>
<text x="1248.0" y="1965.4" font-size="21.7" fill="#000" stroke="#000" stroke-width="0.38" text-anchor="end" >50</text>
<text x="1248.0" y="1927.2" font-size="21.7" fill="#000" stroke="#000" stroke-width="0.38" text-anchor="end" >60</text>
<text x="1248.0" y="1889.1" font-size="21.7" fill="#000" stroke="#000" stroke-width="0.38" text-anchor="end" >70</text>
<text x="1248.0" y="1851.0" font-size="21.7" fill="#000" stroke="#000" stroke-width="0.38" text-anchor="end" >80</text>
<text x="1248.0" y="1812.8" font-size="21.7" fill="#000" stroke="#000" stroke-width="0.38" text-anchor="end" >90</text>
<text x="1248.0" y="1774.7" font-size="21.7" fill="#000" stroke="#000" stroke-width="0.38" text-anchor="end" >100</text>
<path d="M1248.5,2149.3h15M1248.5,2111.2h15M1248.5,2073.0h15M1248.5,2034.9h15M1248.5,1996.8h15M1248.5,1958.7h15M1248.5,1920.5h15M1248.5,1882.4h15M1248.5,1844.3h15M1248.5,1806.1h15M1248.5,1768.0h15" stroke="#000" stroke-width="1.4" fill="none"/>
<path d="M1263.8,2149.3v14.5M1286.8,2149.3v10M1309.8,2149.3v10M1332.8,2149.3v10M1355.8,2149.3v10M1378.8,2149.3v14.5M1401.8,2149.3v10M1424.8,2149.3v10M1447.8,2149.3v10" stroke="#1a1a1a" stroke-width="1.4" fill="none"/>
<text x="1263.5" y="2180.5" font-size="21.7" fill="#000" stroke="#000" stroke-width="0.38" text-anchor="middle" >10</text>
<text x="1379.0" y="2180.5" font-size="21.7" fill="#000" stroke="#000" stroke-width="0.38" text-anchor="middle" >11</text>
<text x="1359" y="2207.5" font-size="21.7" fill="#000" stroke="#000" stroke-width="0.38" text-anchor="middle" >Time (min)</text>
<text transform="translate(1204.3,1956.7) rotate(-90)" stroke="#000" stroke-width="0.38" font-size="21.7" text-anchor="middle">Relative Abundance</text>
</g>
<text x="417.3" y="1491.7" font-size="27.55" fill="#1447F0" stroke="#1447F0" stroke-width="0.38" text-anchor="start" >HexNAc(2)Hex(3)Fuc(1)</text>
<text x="417.3" y="1524.6" font-size="27.55" fill="#4BC31E" stroke="#4BC31E" stroke-width="0.38" text-anchor="start" >HexNAc(2)Hex(8)</text>
<text x="417.3" y="1557.5" font-size="27.55" fill="#0F7D1E" stroke="#0F7D1E" stroke-width="0.38" text-anchor="start" >HexNAc(2)Hex(9)</text>
<text x="417.3" y="1590.4" font-size="27.55" fill="#1E8CD2" stroke="#1E8CD2" stroke-width="0.38" text-anchor="start" >HexNAc(2)Hex(3)</text>
<text x="417.3" y="1623.3" font-size="27.55" fill="#4B5A14" stroke="#4B5A14" stroke-width="0.38" text-anchor="start" >HexNAc(2)Hex(5)</text>
<text x="417.3" y="1656.2" font-size="27.55" fill="#F0823C" stroke="#F0823C" stroke-width="0.38" text-anchor="start" >HexNAc(3)Hex(3)Fuc(1)</text>
<text x="956" y="1479.6" font-size="27.55" fill="#1447F0" stroke="#1447F0" stroke-width="0.38" text-anchor="start" >HexNAc(2)Hex(3)Fuc(1)</text>
<text x="956" y="1512.8" font-size="27.55" fill="#4BC31E" stroke="#4BC31E" stroke-width="0.38" text-anchor="start" >HexNAc(2)Hex(8)</text>
<text x="956" y="1545.9" font-size="27.55" fill="#0F7D1E" stroke="#0F7D1E" stroke-width="0.38" text-anchor="start" >HexNAc(2)Hex(9)</text>
<text x="956" y="1579.1" font-size="27.55" fill="#14149B" stroke="#14149B" stroke-width="0.38" text-anchor="start" >HexNAc(2)Hex(7)</text>
<text x="956" y="1612.3" font-size="27.55" fill="#1E8CD2" stroke="#1E8CD2" stroke-width="0.38" text-anchor="start" >HexNAc(2)Hex(3)</text>
<text x="956" y="1645.4" font-size="27.55" fill="#F0823C" stroke="#F0823C" stroke-width="0.38" text-anchor="start" >HexNAc(3)Hex(3)Fuc(1)</text>
<text x="956" y="1678.6" font-size="27.55" fill="#82143C" stroke="#82143C" stroke-width="0.38" text-anchor="start" >HexNAc(3)Hex(3)</text>
<text x="409" y="2246.2" font-size="27.55" fill="#0F7D1E" stroke="#0F7D1E" stroke-width="0.38" text-anchor="start" >HexNAc(2)Hex(9)</text>
<text x="409" y="2279.2" font-size="27.55" fill="#4BC31E" stroke="#4BC31E" stroke-width="0.38" text-anchor="start" >HexNAc(2)Hex(8)</text>
<text x="409" y="2312.2" font-size="27.55" fill="#4B5A14" stroke="#4B5A14" stroke-width="0.38" text-anchor="start" >HexNAc(2)Hex(5)</text>
<text x="409" y="2345.2" font-size="27.55" fill="#1447F0" stroke="#1447F0" stroke-width="0.38" text-anchor="start" >HexNAc(2)Hex(3)Fuc(1)</text>
<text x="409" y="2378.2" font-size="27.55" fill="#1E8CD2" stroke="#1E8CD2" stroke-width="0.38" text-anchor="start" >HexNAc(2)Hex(3)</text>
<text x="409" y="2411.2" font-size="27.55" fill="#82143C" stroke="#82143C" stroke-width="0.38" text-anchor="start" >HexNAc(3)Hex(3)</text>
<text x="409" y="2444.2" font-size="27.55" fill="#F0823C" stroke="#F0823C" stroke-width="0.38" text-anchor="start" >HexNAc(3)Hex(3)Fuc(1)</text>
<text x="409" y="2477.2" font-size="27.55" fill="#FF463C" stroke="#FF463C" stroke-width="0.38" text-anchor="start" >HexNAc(3)Hex(5)</text>
<text x="972" y="2253.0" font-size="27.55" fill="#1447F0" stroke="#1447F0" stroke-width="0.38" text-anchor="start" >HexNAc(2)Hex(3)Fuc(1)</text>
<text x="972" y="2286.2" font-size="27.55" fill="#0F7D1E" stroke="#0F7D1E" stroke-width="0.38" text-anchor="start" >HexNAc(2)Hex(9)</text>
<text x="972" y="2319.4" font-size="27.55" fill="#4BC31E" stroke="#4BC31E" stroke-width="0.38" text-anchor="start" >HexNAc(2)Hex(8)</text>
<text x="972" y="2352.6" font-size="27.55" fill="#F0823C" stroke="#F0823C" stroke-width="0.38" text-anchor="start" >HexNAc(3)Hex(3)Fuc(1)</text>
<text x="972" y="2385.8" font-size="27.55" fill="#82143C" stroke="#82143C" stroke-width="0.38" text-anchor="start" >HexNAc(3)Hex(3)</text>
<text x="972" y="2419.0" font-size="27.55" fill="#FF463C" stroke="#FF463C" stroke-width="0.38" text-anchor="start" >HexNAc(3)Hex(5)</text>
<text x="972" y="2452.2" font-size="27.55" fill="#FF50E6" stroke="#FF50E6" stroke-width="0.38" text-anchor="start" >HexNAc(3)Hex(5)Fuc(1)</text>
<text x="972" y="2485.4" font-size="27.55" fill="#FFE128" stroke="#FFE128" stroke-width="0.38" text-anchor="start" >HexNAc(3)Hex(4)</text>
</g>
</svg>
</body></html>
